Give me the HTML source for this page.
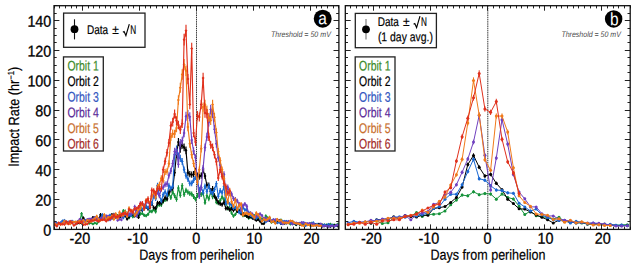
<!DOCTYPE html>
<html><head><meta charset="utf-8"><style>html,body{margin:0;padding:0;background:#fff;overflow:hidden}svg{display:block}text{font-family:"Liberation Sans",sans-serif}</style></head>
<body><svg width="637" height="267" viewBox="0 0 637 267" font-family="Liberation Sans, sans-serif">
<rect width="637" height="267" fill="#fff"/>
<defs><clipPath id="ca"><rect x="54.0" y="5.7" width="284.9" height="223.70000000000002"/></clipPath><clipPath id="cb"><rect x="345.3" y="5.7" width="284.90000000000003" height="223.70000000000002"/></clipPath></defs>
<line x1="196.5" y1="5.7" x2="196.5" y2="229.4" stroke="#3a3a3a" stroke-width="1" stroke-dasharray="1.5,0.7"/>
<line x1="487.8" y1="5.7" x2="487.8" y2="229.4" stroke="#3a3a3a" stroke-width="1" stroke-dasharray="1.5,0.7"/>
<g clip-path="url(#ca)">
<path d="M77.74,222.52 L79.64,222.24 L81.54,213.74 L83.44,221.01 L85.34,222.09 L87.24,220.1 L89.14,223.44 L91.04,222.96 L92.94,223.91 L94.84,222.91 L96.73,223.74 L98.63,221.86 L100.53,217.92 L102.43,218.38 L104.33,216.67 L106.23,217.77 L108.13,220.05 L110.03,217.86 L111.93,217.51 L113.83,214.51 L115.73,217.37 L117.63,215.64 L119.53,217.48 L121.43,215.68 L123.33,210.93 L125.22,211.38 L127.12,214.89 L129.02,217.86 L130.92,214.6 L132.82,216.82 L134.72,215.08 L136.62,212.49 L138.52,215.89 L140.42,213.88 L142.32,213.39 L144.22,215.29 L146.12,215.64 L148.02,214.37 L149.92,211.21 L151.82,211.55 L153.71,209.34 L155.61,211.83 L157.51,205.54 L159.41,204.68 L161.31,204.84 L163.21,201.45 L165.11,199.82 L167.01,198.79 L168.91,193.61 L170.81,197.63 L172.71,191.97 L174.61,195.66 L176.51,199.33 L178.41,187.94 L180.31,195.23 L182.2,185.75 L184.1,194.47 L186,190.33 L187.9,192.13 L189.8,193.5 L191.7,193.96 L193.6,196.45 L195.5,199.28 L197.4,195.42 L199.3,192.18 L201.2,194.56 L203.1,193.16 L205,202.65 L206.9,195.67 L208.8,198.84 L210.69,191.81 L212.59,196.74 L214.49,195.81 L216.39,202.16 L218.29,203.15 L220.19,200.43 L222.09,197.08 L223.99,199.42 L225.89,202.41 L227.79,208.66 L229.69,207.78 L231.59,213 L233.49,216.1 L235.39,214.36 L237.29,211.29 L239.19,210.31 L241.08,211.56 L242.98,215.6 L244.88,215.36 L246.78,216.52 L248.68,218.17 L250.58,217.13 L252.48,214.86 L254.38,215.77 L256.28,217.41 L258.18,219.22 L260.08,218.31 L261.98,218.82 L263.88,219.76 L265.78,216.04 L267.67,217.86 L269.57,218.07 L271.47,222.6 L273.37,220.86 L275.27,220.95 L277.17,222.23 L279.07,221.69 L280.97,219.82 L282.87,223.34 L284.77,222.62 L286.67,223.35 L288.57,221.96 L290.47,224.23 L292.37,222.5 L294.27,223.68 L296.16,224.85 L298.06,223.79 L299.96,224.54 L301.86,224.32 L303.76,224.54 L305.66,223.87 L307.56,223.9 L309.46,225.01 L311.36,222.94 L313.26,224.25 L315.16,224.69 L317.06,225.04 L318.96,225.4 L320.86,225.24 L322.76,226.18 L324.65,224.83 L326.55,224.81 L328.45,225.53 L330.35,224.06 L332.25,225.12 L334.15,224.87 L336.05,225.08 L337.95,223.97" fill="none" stroke="#15923a" stroke-width="1.15" stroke-linejoin="round"/>
<path d="M81.54,212.06V215.42M100.53,216.49V219.36M102.43,216.97V219.78M104.33,215.15V218.18M106.23,216.32V219.21M110.03,216.42V219.3M111.93,216.05V218.98M113.83,212.87V216.14M115.73,215.9V218.84M117.63,214.07V217.21M119.53,216.01V218.94M121.43,214.11V217.25M123.33,209.11V212.75M125.22,209.58V213.18M127.12,213.28V216.5M129.02,216.42V219.3M130.92,212.97V216.23M132.82,215.32V218.32M134.72,213.47V216.68M136.62,210.75V214.24M138.52,214.33V217.45M140.42,212.21V215.55M142.32,211.7V215.09M144.22,213.7V216.88M146.12,214.06V217.21M148.02,212.73V216.02M149.92,209.4V213.02M151.82,209.76V213.34M153.71,207.44V211.24M155.61,210.05V213.61M157.51,203.47V207.61M159.41,202.58V206.79M161.31,202.74V206.94M163.21,199.21V203.69M165.11,197.51V202.12M167.01,196.45V201.14M168.91,191.07V196.15M170.81,195.25V200.02M172.71,189.37V194.56M174.61,193.2V198.13M176.51,197V201.65M178.41,185.21V190.67M180.31,192.75V197.71M182.2,182.95V188.55M184.1,191.97V196.98M186,187.68V192.98M187.9,189.54V194.72M189.8,190.96V196.04M191.7,191.44V196.48M193.6,194.02V198.88M195.5,196.95V201.6M197.4,192.95V197.89M199.3,189.6V194.77M201.2,192.06V197.06M203.1,190.61V195.71M205,200.45V204.84M206.9,193.21V198.13M208.8,196.49V201.18M210.69,189.21V194.41M212.59,194.32V199.16M214.49,193.35V198.26M216.39,199.94V204.37M218.29,200.98V205.32M220.19,198.14V202.71M222.09,194.67V199.49M223.99,197.1V201.74M225.89,200.21V204.61M227.79,206.73V210.59M229.69,205.81V209.75M231.59,211.29V214.72M233.49,214.55V217.65M235.39,212.71V216M237.29,209.49V213.1M239.19,208.46V212.16M241.08,209.77V213.35M242.98,214.03V217.18M244.88,213.78V216.95M246.78,215V218.04M248.68,216.75V219.6M250.58,215.65V218.62M252.48,213.25V216.48M254.38,214.21V217.34M256.28,215.95V218.88M258.18,217.87V220.57M260.08,216.9V219.72M261.98,217.44V220.19M265.78,214.49V217.59M267.67,216.42V219.3M269.57,216.64V219.49" stroke="#15923a" stroke-width="1.15" fill="none"/>
<path d="M76.24,222.52L77.74,221.02L79.24,222.52L77.74,224.02ZM78.14,222.24L79.64,220.74L81.14,222.24L79.64,223.74ZM80.04,213.74L81.54,212.24L83.04,213.74L81.54,215.24ZM81.94,221.01L83.44,219.51L84.94,221.01L83.44,222.51ZM83.84,222.09L85.34,220.59L86.84,222.09L85.34,223.59ZM85.74,220.1L87.24,218.6L88.74,220.1L87.24,221.6ZM87.64,223.44L89.14,221.94L90.64,223.44L89.14,224.94ZM89.54,222.96L91.04,221.46L92.54,222.96L91.04,224.46ZM91.44,223.91L92.94,222.41L94.44,223.91L92.94,225.41ZM93.34,222.91L94.84,221.41L96.34,222.91L94.84,224.41ZM95.23,223.74L96.73,222.24L98.23,223.74L96.73,225.24ZM97.13,221.86L98.63,220.36L100.13,221.86L98.63,223.36ZM99.03,217.92L100.53,216.42L102.03,217.92L100.53,219.42ZM100.93,218.38L102.43,216.88L103.93,218.38L102.43,219.88ZM102.83,216.67L104.33,215.17L105.83,216.67L104.33,218.17ZM104.73,217.77L106.23,216.27L107.73,217.77L106.23,219.27ZM106.63,220.05L108.13,218.55L109.63,220.05L108.13,221.55ZM108.53,217.86L110.03,216.36L111.53,217.86L110.03,219.36ZM110.43,217.51L111.93,216.01L113.43,217.51L111.93,219.01ZM112.33,214.51L113.83,213.01L115.33,214.51L113.83,216.01ZM114.23,217.37L115.73,215.87L117.23,217.37L115.73,218.87ZM116.13,215.64L117.63,214.14L119.13,215.64L117.63,217.14ZM118.03,217.48L119.53,215.98L121.03,217.48L119.53,218.98ZM119.93,215.68L121.43,214.18L122.93,215.68L121.43,217.18ZM121.83,210.93L123.33,209.43L124.83,210.93L123.33,212.43ZM123.72,211.38L125.22,209.88L126.72,211.38L125.22,212.88ZM125.62,214.89L127.12,213.39L128.62,214.89L127.12,216.39ZM127.52,217.86L129.02,216.36L130.52,217.86L129.02,219.36ZM129.42,214.6L130.92,213.1L132.42,214.6L130.92,216.1ZM131.32,216.82L132.82,215.32L134.32,216.82L132.82,218.32ZM133.22,215.08L134.72,213.58L136.22,215.08L134.72,216.58ZM135.12,212.49L136.62,210.99L138.12,212.49L136.62,213.99ZM137.02,215.89L138.52,214.39L140.02,215.89L138.52,217.39ZM138.92,213.88L140.42,212.38L141.92,213.88L140.42,215.38ZM140.82,213.39L142.32,211.89L143.82,213.39L142.32,214.89ZM142.72,215.29L144.22,213.79L145.72,215.29L144.22,216.79ZM144.62,215.64L146.12,214.14L147.62,215.64L146.12,217.14ZM146.52,214.37L148.02,212.87L149.52,214.37L148.02,215.87ZM148.42,211.21L149.92,209.71L151.42,211.21L149.92,212.71ZM150.32,211.55L151.82,210.05L153.32,211.55L151.82,213.05ZM152.21,209.34L153.71,207.84L155.21,209.34L153.71,210.84ZM154.11,211.83L155.61,210.33L157.11,211.83L155.61,213.33ZM156.01,205.54L157.51,204.04L159.01,205.54L157.51,207.04ZM157.91,204.68L159.41,203.18L160.91,204.68L159.41,206.18ZM159.81,204.84L161.31,203.34L162.81,204.84L161.31,206.34ZM161.71,201.45L163.21,199.95L164.71,201.45L163.21,202.95ZM163.61,199.82L165.11,198.32L166.61,199.82L165.11,201.32ZM165.51,198.79L167.01,197.29L168.51,198.79L167.01,200.29ZM167.41,193.61L168.91,192.11L170.41,193.61L168.91,195.11ZM169.31,197.63L170.81,196.13L172.31,197.63L170.81,199.13ZM171.21,191.97L172.71,190.47L174.21,191.97L172.71,193.47ZM173.11,195.66L174.61,194.16L176.11,195.66L174.61,197.16ZM175.01,199.33L176.51,197.83L178.01,199.33L176.51,200.83ZM176.91,187.94L178.41,186.44L179.91,187.94L178.41,189.44ZM178.81,195.23L180.31,193.73L181.81,195.23L180.31,196.73ZM180.7,185.75L182.2,184.25L183.7,185.75L182.2,187.25ZM182.6,194.47L184.1,192.97L185.6,194.47L184.1,195.97ZM184.5,190.33L186,188.83L187.5,190.33L186,191.83ZM186.4,192.13L187.9,190.63L189.4,192.13L187.9,193.63ZM188.3,193.5L189.8,192L191.3,193.5L189.8,195ZM190.2,193.96L191.7,192.46L193.2,193.96L191.7,195.46ZM192.1,196.45L193.6,194.95L195.1,196.45L193.6,197.95ZM194,199.28L195.5,197.78L197,199.28L195.5,200.78ZM195.9,195.42L197.4,193.92L198.9,195.42L197.4,196.92ZM197.8,192.18L199.3,190.68L200.8,192.18L199.3,193.68ZM199.7,194.56L201.2,193.06L202.7,194.56L201.2,196.06ZM201.6,193.16L203.1,191.66L204.6,193.16L203.1,194.66ZM203.5,202.65L205,201.15L206.5,202.65L205,204.15ZM205.4,195.67L206.9,194.17L208.4,195.67L206.9,197.17ZM207.3,198.84L208.8,197.34L210.3,198.84L208.8,200.34ZM209.19,191.81L210.69,190.31L212.19,191.81L210.69,193.31ZM211.09,196.74L212.59,195.24L214.09,196.74L212.59,198.24ZM212.99,195.81L214.49,194.31L215.99,195.81L214.49,197.31ZM214.89,202.16L216.39,200.66L217.89,202.16L216.39,203.66ZM216.79,203.15L218.29,201.65L219.79,203.15L218.29,204.65ZM218.69,200.43L220.19,198.93L221.69,200.43L220.19,201.93ZM220.59,197.08L222.09,195.58L223.59,197.08L222.09,198.58ZM222.49,199.42L223.99,197.92L225.49,199.42L223.99,200.92ZM224.39,202.41L225.89,200.91L227.39,202.41L225.89,203.91ZM226.29,208.66L227.79,207.16L229.29,208.66L227.79,210.16ZM228.19,207.78L229.69,206.28L231.19,207.78L229.69,209.28ZM230.09,213L231.59,211.5L233.09,213L231.59,214.5ZM231.99,216.1L233.49,214.6L234.99,216.1L233.49,217.6ZM233.89,214.36L235.39,212.86L236.89,214.36L235.39,215.86ZM235.79,211.29L237.29,209.79L238.79,211.29L237.29,212.79ZM237.69,210.31L239.19,208.81L240.69,210.31L239.19,211.81ZM239.58,211.56L241.08,210.06L242.58,211.56L241.08,213.06ZM241.48,215.6L242.98,214.1L244.48,215.6L242.98,217.1ZM243.38,215.36L244.88,213.86L246.38,215.36L244.88,216.86ZM245.28,216.52L246.78,215.02L248.28,216.52L246.78,218.02ZM247.18,218.17L248.68,216.67L250.18,218.17L248.68,219.67ZM249.08,217.13L250.58,215.63L252.08,217.13L250.58,218.63ZM250.98,214.86L252.48,213.36L253.98,214.86L252.48,216.36ZM252.88,215.77L254.38,214.27L255.88,215.77L254.38,217.27ZM254.78,217.41L256.28,215.91L257.78,217.41L256.28,218.91ZM256.68,219.22L258.18,217.72L259.68,219.22L258.18,220.72ZM258.58,218.31L260.08,216.81L261.58,218.31L260.08,219.81ZM260.48,218.82L261.98,217.32L263.48,218.82L261.98,220.32ZM262.38,219.76L263.88,218.26L265.38,219.76L263.88,221.26ZM264.28,216.04L265.78,214.54L267.28,216.04L265.78,217.54ZM266.17,217.86L267.67,216.36L269.17,217.86L267.67,219.36ZM268.07,218.07L269.57,216.57L271.07,218.07L269.57,219.57ZM269.97,222.6L271.47,221.1L272.97,222.6L271.47,224.1ZM271.87,220.86L273.37,219.36L274.87,220.86L273.37,222.36ZM273.77,220.95L275.27,219.45L276.77,220.95L275.27,222.45ZM275.67,222.23L277.17,220.73L278.67,222.23L277.17,223.73ZM277.57,221.69L279.07,220.19L280.57,221.69L279.07,223.19ZM279.47,219.82L280.97,218.32L282.47,219.82L280.97,221.32ZM281.37,223.34L282.87,221.84L284.37,223.34L282.87,224.84ZM283.27,222.62L284.77,221.12L286.27,222.62L284.77,224.12ZM285.17,223.35L286.67,221.85L288.17,223.35L286.67,224.85ZM287.07,221.96L288.57,220.46L290.07,221.96L288.57,223.46ZM288.97,224.23L290.47,222.73L291.97,224.23L290.47,225.73ZM290.87,222.5L292.37,221L293.87,222.5L292.37,224ZM292.77,223.68L294.27,222.18L295.77,223.68L294.27,225.18ZM294.66,224.85L296.16,223.35L297.66,224.85L296.16,226.35ZM296.56,223.79L298.06,222.29L299.56,223.79L298.06,225.29ZM298.46,224.54L299.96,223.04L301.46,224.54L299.96,226.04ZM300.36,224.32L301.86,222.82L303.36,224.32L301.86,225.82ZM302.26,224.54L303.76,223.04L305.26,224.54L303.76,226.04ZM304.16,223.87L305.66,222.37L307.16,223.87L305.66,225.37ZM306.06,223.9L307.56,222.4L309.06,223.9L307.56,225.4ZM307.96,225.01L309.46,223.51L310.96,225.01L309.46,226.51ZM309.86,222.94L311.36,221.44L312.86,222.94L311.36,224.44ZM311.76,224.25L313.26,222.75L314.76,224.25L313.26,225.75ZM313.66,224.69L315.16,223.19L316.66,224.69L315.16,226.19ZM315.56,225.04L317.06,223.54L318.56,225.04L317.06,226.54ZM317.46,225.4L318.96,223.9L320.46,225.4L318.96,226.9ZM319.36,225.24L320.86,223.74L322.36,225.24L320.86,226.74ZM321.26,226.18L322.76,224.68L324.26,226.18L322.76,227.68ZM323.15,224.83L324.65,223.33L326.15,224.83L324.65,226.33ZM325.05,224.81L326.55,223.31L328.05,224.81L326.55,226.31ZM326.95,225.53L328.45,224.03L329.95,225.53L328.45,227.03ZM328.85,224.06L330.35,222.56L331.85,224.06L330.35,225.56ZM330.75,225.12L332.25,223.62L333.75,225.12L332.25,226.62ZM332.65,224.87L334.15,223.37L335.65,224.87L334.15,226.37ZM334.55,225.08L336.05,223.58L337.55,225.08L336.05,226.58ZM336.45,223.97L337.95,222.47L339.45,223.97L337.95,225.47Z" fill="#15923a"/>
<path d="M77.74,223.2 L79.64,222.94 L81.54,223.26 L83.44,217.96 L85.34,220.68 L87.24,220.49 L89.14,220.34 L91.04,220.23 L92.94,217.56 L94.84,218.03 L96.73,219.64 L98.63,219.56 L100.53,214.72 L102.43,218.26 L104.33,217.33 L106.23,219.35 L108.13,218.31 L110.03,218.24 L111.93,214.72 L113.83,215.99 L115.73,215.7 L117.63,216.82 L119.53,217.14 L121.43,215.59 L123.33,216.2 L125.22,215.82 L127.12,219.04 L129.02,216.7 L130.92,214.86 L132.82,214.14 L134.72,215.9 L136.62,212.4 L138.52,217.4 L140.42,208.31 L142.32,210.14 L144.22,207.12 L146.12,206.86 L148.02,208.81 L149.92,207.21 L151.82,203.3 L153.71,207.63 L155.61,208.3 L157.51,202.96 L159.41,203.15 L161.31,203.01 L163.21,200.68 L165.11,197.63 L167.01,198.92 L168.91,192.21 L170.81,189.73 L172.71,188 L174.61,172.73 L176.51,154.39 L178.41,142.01 L180.31,148.87 L182.2,144.84 L184.1,147.38 L186,150.36 L187.9,172.73 L189.8,174.22 L191.7,174.67 L193.6,174.22 L195.5,170.94 L197.4,175.71 L199.3,176.61 L201.2,175.71 L203.1,170.04 L205,176.01 L206.9,185 L208.8,185.41 L210.69,190.92 L212.59,188.69 L214.49,196.16 L216.39,198.88 L218.29,202.33 L220.19,203.83 L222.09,204.59 L223.99,202.38 L225.89,208.46 L227.79,208.06 L229.69,209.94 L231.59,208.47 L233.49,210.33 L235.39,208.56 L237.29,211.16 L239.19,211.22 L241.08,213.48 L242.98,213.78 L244.88,214.76 L246.78,216.26 L248.68,217.37 L250.58,216.46 L252.48,218.13 L254.38,218.97 L256.28,220.54 L258.18,219.61 L260.08,221.44 L261.98,223.71 L263.88,223.81 L265.78,219.37 L267.67,220.48 L269.57,220.61 L271.47,221.07 L273.37,221.26 L275.27,221.36 L277.17,222.56 L279.07,220.18 L280.97,223.86 L282.87,221.95 L284.77,223.46 L286.67,222.12 L288.57,222.69 L290.47,222.44 L292.37,221.27 L294.27,223.48 L296.16,224.73 L298.06,223.5 L299.96,224.59 L301.86,223.1 L303.76,223.22 L305.66,223.58 L307.56,224.51 L309.46,223.69 L311.36,225.44 L313.26,224.05 L315.16,224.43 L317.06,224.91 L318.96,223.88 L320.86,225.09 L322.76,224.75 L324.65,225.94 L326.55,225.78 L328.45,224.42 L330.35,226.72 L332.25,225.79 L334.15,225.46 L336.05,225.13 L337.95,226.13" fill="none" stroke="#000000" stroke-width="1.15" stroke-linejoin="round"/>
<path d="M83.44,216.52V219.39M92.94,216.1V219.02M94.84,216.6V219.46M100.53,213.09V216.34M102.43,216.85V219.68M104.33,215.86V218.8M108.13,216.9V219.72M110.03,216.83V219.66M111.93,213.09V216.34M113.83,214.44V217.54M115.73,214.14V217.27M117.63,215.31V218.32M119.53,215.66V218.62M121.43,214.01V217.16M123.33,214.66V217.74M125.22,214.26V217.38M127.12,217.67V220.4M129.02,215.19V218.21M130.92,213.24V216.48M132.82,212.48V215.79M134.72,214.34V217.45M136.62,210.65V214.15M138.52,215.93V218.87M140.42,206.36V210.25M142.32,208.28V212M144.22,205.12V209.12M146.12,204.84V208.87M148.02,206.89V210.73M149.92,205.22V209.21M151.82,201.13V205.46M153.71,205.65V209.6M155.61,206.35V210.25M157.51,200.78V205.14M159.41,200.98V205.32M161.31,200.84V205.19M163.21,198.41V202.95M165.11,195.25V200.02M167.01,196.58V201.26M168.91,189.62V194.79M170.81,187.06V192.4M172.71,185.27V190.72M174.61,169.54V175.92M176.51,150.71V158.06M178.41,138.05V145.97M180.31,145.06V152.67M182.2,140.94V148.74M184.1,143.54V151.22M186,146.59V154.13M187.9,169.54V175.92M189.8,171.07V177.37M191.7,171.53V177.8M193.6,171.07V177.37M195.5,167.7V174.18M197.4,172.61V178.82M199.3,173.53V179.69M201.2,172.61V178.82M203.1,166.78V173.31M205,172.91V179.11M206.9,182.17V187.82M208.8,182.59V188.22M210.69,188.29V193.55M212.59,185.98V191.39M214.49,193.72V198.61M216.39,196.54V201.22M218.29,200.13V204.54M220.19,201.69V205.97M222.09,202.48V206.7M223.99,200.18V204.58M225.89,206.52V210.4M227.79,206.1V210.02M229.69,208.07V211.81M231.59,206.53V210.41M233.49,208.48V212.18M235.39,206.62V210.49M237.29,209.35V212.97M239.19,209.41V213.03M241.08,211.78V215.17M242.98,212.11V215.46M244.88,213.14V216.38M246.78,214.73V217.8M248.68,215.9V218.84M250.58,214.93V217.98M252.48,216.71V219.55M254.38,217.6V220.34" stroke="#000000" stroke-width="1.15" fill="none"/>
<path d="M76.24,223.2L77.74,221.7L79.24,223.2L77.74,224.7ZM78.14,222.94L79.64,221.44L81.14,222.94L79.64,224.44ZM80.04,223.26L81.54,221.76L83.04,223.26L81.54,224.76ZM81.94,217.96L83.44,216.46L84.94,217.96L83.44,219.46ZM83.84,220.68L85.34,219.18L86.84,220.68L85.34,222.18ZM85.74,220.49L87.24,218.99L88.74,220.49L87.24,221.99ZM87.64,220.34L89.14,218.84L90.64,220.34L89.14,221.84ZM89.54,220.23L91.04,218.73L92.54,220.23L91.04,221.73ZM91.44,217.56L92.94,216.06L94.44,217.56L92.94,219.06ZM93.34,218.03L94.84,216.53L96.34,218.03L94.84,219.53ZM95.23,219.64L96.73,218.14L98.23,219.64L96.73,221.14ZM97.13,219.56L98.63,218.06L100.13,219.56L98.63,221.06ZM99.03,214.72L100.53,213.22L102.03,214.72L100.53,216.22ZM100.93,218.26L102.43,216.76L103.93,218.26L102.43,219.76ZM102.83,217.33L104.33,215.83L105.83,217.33L104.33,218.83ZM104.73,219.35L106.23,217.85L107.73,219.35L106.23,220.85ZM106.63,218.31L108.13,216.81L109.63,218.31L108.13,219.81ZM108.53,218.24L110.03,216.74L111.53,218.24L110.03,219.74ZM110.43,214.72L111.93,213.22L113.43,214.72L111.93,216.22ZM112.33,215.99L113.83,214.49L115.33,215.99L113.83,217.49ZM114.23,215.7L115.73,214.2L117.23,215.7L115.73,217.2ZM116.13,216.82L117.63,215.32L119.13,216.82L117.63,218.32ZM118.03,217.14L119.53,215.64L121.03,217.14L119.53,218.64ZM119.93,215.59L121.43,214.09L122.93,215.59L121.43,217.09ZM121.83,216.2L123.33,214.7L124.83,216.2L123.33,217.7ZM123.72,215.82L125.22,214.32L126.72,215.82L125.22,217.32ZM125.62,219.04L127.12,217.54L128.62,219.04L127.12,220.54ZM127.52,216.7L129.02,215.2L130.52,216.7L129.02,218.2ZM129.42,214.86L130.92,213.36L132.42,214.86L130.92,216.36ZM131.32,214.14L132.82,212.64L134.32,214.14L132.82,215.64ZM133.22,215.9L134.72,214.4L136.22,215.9L134.72,217.4ZM135.12,212.4L136.62,210.9L138.12,212.4L136.62,213.9ZM137.02,217.4L138.52,215.9L140.02,217.4L138.52,218.9ZM138.92,208.31L140.42,206.81L141.92,208.31L140.42,209.81ZM140.82,210.14L142.32,208.64L143.82,210.14L142.32,211.64ZM142.72,207.12L144.22,205.62L145.72,207.12L144.22,208.62ZM144.62,206.86L146.12,205.36L147.62,206.86L146.12,208.36ZM146.52,208.81L148.02,207.31L149.52,208.81L148.02,210.31ZM148.42,207.21L149.92,205.71L151.42,207.21L149.92,208.71ZM150.32,203.3L151.82,201.8L153.32,203.3L151.82,204.8ZM152.21,207.63L153.71,206.13L155.21,207.63L153.71,209.13ZM154.11,208.3L155.61,206.8L157.11,208.3L155.61,209.8ZM156.01,202.96L157.51,201.46L159.01,202.96L157.51,204.46ZM157.91,203.15L159.41,201.65L160.91,203.15L159.41,204.65ZM159.81,203.01L161.31,201.51L162.81,203.01L161.31,204.51ZM161.71,200.68L163.21,199.18L164.71,200.68L163.21,202.18ZM163.61,197.63L165.11,196.13L166.61,197.63L165.11,199.13ZM165.51,198.92L167.01,197.42L168.51,198.92L167.01,200.42ZM167.41,192.21L168.91,190.71L170.41,192.21L168.91,193.71ZM169.31,189.73L170.81,188.23L172.31,189.73L170.81,191.23ZM171.21,188L172.71,186.5L174.21,188L172.71,189.5ZM173.11,172.73L174.61,171.23L176.11,172.73L174.61,174.23ZM175.01,154.39L176.51,152.89L178.01,154.39L176.51,155.89ZM176.91,142.01L178.41,140.51L179.91,142.01L178.41,143.51ZM178.81,148.87L180.31,147.37L181.81,148.87L180.31,150.37ZM180.7,144.84L182.2,143.34L183.7,144.84L182.2,146.34ZM182.6,147.38L184.1,145.88L185.6,147.38L184.1,148.88ZM184.5,150.36L186,148.86L187.5,150.36L186,151.86ZM186.4,172.73L187.9,171.23L189.4,172.73L187.9,174.23ZM188.3,174.22L189.8,172.72L191.3,174.22L189.8,175.72ZM190.2,174.67L191.7,173.17L193.2,174.67L191.7,176.17ZM192.1,174.22L193.6,172.72L195.1,174.22L193.6,175.72ZM194,170.94L195.5,169.44L197,170.94L195.5,172.44ZM195.9,175.71L197.4,174.21L198.9,175.71L197.4,177.21ZM197.8,176.61L199.3,175.11L200.8,176.61L199.3,178.11ZM199.7,175.71L201.2,174.21L202.7,175.71L201.2,177.21ZM201.6,170.04L203.1,168.54L204.6,170.04L203.1,171.54ZM203.5,176.01L205,174.51L206.5,176.01L205,177.51ZM205.4,185L206.9,183.5L208.4,185L206.9,186.5ZM207.3,185.41L208.8,183.91L210.3,185.41L208.8,186.91ZM209.19,190.92L210.69,189.42L212.19,190.92L210.69,192.42ZM211.09,188.69L212.59,187.19L214.09,188.69L212.59,190.19ZM212.99,196.16L214.49,194.66L215.99,196.16L214.49,197.66ZM214.89,198.88L216.39,197.38L217.89,198.88L216.39,200.38ZM216.79,202.33L218.29,200.83L219.79,202.33L218.29,203.83ZM218.69,203.83L220.19,202.33L221.69,203.83L220.19,205.33ZM220.59,204.59L222.09,203.09L223.59,204.59L222.09,206.09ZM222.49,202.38L223.99,200.88L225.49,202.38L223.99,203.88ZM224.39,208.46L225.89,206.96L227.39,208.46L225.89,209.96ZM226.29,208.06L227.79,206.56L229.29,208.06L227.79,209.56ZM228.19,209.94L229.69,208.44L231.19,209.94L229.69,211.44ZM230.09,208.47L231.59,206.97L233.09,208.47L231.59,209.97ZM231.99,210.33L233.49,208.83L234.99,210.33L233.49,211.83ZM233.89,208.56L235.39,207.06L236.89,208.56L235.39,210.06ZM235.79,211.16L237.29,209.66L238.79,211.16L237.29,212.66ZM237.69,211.22L239.19,209.72L240.69,211.22L239.19,212.72ZM239.58,213.48L241.08,211.98L242.58,213.48L241.08,214.98ZM241.48,213.78L242.98,212.28L244.48,213.78L242.98,215.28ZM243.38,214.76L244.88,213.26L246.38,214.76L244.88,216.26ZM245.28,216.26L246.78,214.76L248.28,216.26L246.78,217.76ZM247.18,217.37L248.68,215.87L250.18,217.37L248.68,218.87ZM249.08,216.46L250.58,214.96L252.08,216.46L250.58,217.96ZM250.98,218.13L252.48,216.63L253.98,218.13L252.48,219.63ZM252.88,218.97L254.38,217.47L255.88,218.97L254.38,220.47ZM254.78,220.54L256.28,219.04L257.78,220.54L256.28,222.04ZM256.68,219.61L258.18,218.11L259.68,219.61L258.18,221.11ZM258.58,221.44L260.08,219.94L261.58,221.44L260.08,222.94ZM260.48,223.71L261.98,222.21L263.48,223.71L261.98,225.21ZM262.38,223.81L263.88,222.31L265.38,223.81L263.88,225.31ZM264.28,219.37L265.78,217.87L267.28,219.37L265.78,220.87ZM266.17,220.48L267.67,218.98L269.17,220.48L267.67,221.98ZM268.07,220.61L269.57,219.11L271.07,220.61L269.57,222.11ZM269.97,221.07L271.47,219.57L272.97,221.07L271.47,222.57ZM271.87,221.26L273.37,219.76L274.87,221.26L273.37,222.76ZM273.77,221.36L275.27,219.86L276.77,221.36L275.27,222.86ZM275.67,222.56L277.17,221.06L278.67,222.56L277.17,224.06ZM277.57,220.18L279.07,218.68L280.57,220.18L279.07,221.68ZM279.47,223.86L280.97,222.36L282.47,223.86L280.97,225.36ZM281.37,221.95L282.87,220.45L284.37,221.95L282.87,223.45ZM283.27,223.46L284.77,221.96L286.27,223.46L284.77,224.96ZM285.17,222.12L286.67,220.62L288.17,222.12L286.67,223.62ZM287.07,222.69L288.57,221.19L290.07,222.69L288.57,224.19ZM288.97,222.44L290.47,220.94L291.97,222.44L290.47,223.94ZM290.87,221.27L292.37,219.77L293.87,221.27L292.37,222.77ZM292.77,223.48L294.27,221.98L295.77,223.48L294.27,224.98ZM294.66,224.73L296.16,223.23L297.66,224.73L296.16,226.23ZM296.56,223.5L298.06,222L299.56,223.5L298.06,225ZM298.46,224.59L299.96,223.09L301.46,224.59L299.96,226.09ZM300.36,223.1L301.86,221.6L303.36,223.1L301.86,224.6ZM302.26,223.22L303.76,221.72L305.26,223.22L303.76,224.72ZM304.16,223.58L305.66,222.08L307.16,223.58L305.66,225.08ZM306.06,224.51L307.56,223.01L309.06,224.51L307.56,226.01ZM307.96,223.69L309.46,222.19L310.96,223.69L309.46,225.19ZM309.86,225.44L311.36,223.94L312.86,225.44L311.36,226.94ZM311.76,224.05L313.26,222.55L314.76,224.05L313.26,225.55ZM313.66,224.43L315.16,222.93L316.66,224.43L315.16,225.93ZM315.56,224.91L317.06,223.41L318.56,224.91L317.06,226.41ZM317.46,223.88L318.96,222.38L320.46,223.88L318.96,225.38ZM319.36,225.09L320.86,223.59L322.36,225.09L320.86,226.59ZM321.26,224.75L322.76,223.25L324.26,224.75L322.76,226.25ZM323.15,225.94L324.65,224.44L326.15,225.94L324.65,227.44ZM325.05,225.78L326.55,224.28L328.05,225.78L326.55,227.28ZM326.95,224.42L328.45,222.92L329.95,224.42L328.45,225.92ZM328.85,226.72L330.35,225.22L331.85,226.72L330.35,228.22ZM330.75,225.79L332.25,224.29L333.75,225.79L332.25,227.29ZM332.65,225.46L334.15,223.96L335.65,225.46L334.15,226.96ZM334.55,225.13L336.05,223.63L337.55,225.13L336.05,226.63ZM336.45,226.13L337.95,224.63L339.45,226.13L337.95,227.63Z" fill="#000000"/>
<path d="M54.95,221.99 L56.85,223.18 L58.75,223.34 L60.65,222.57 L62.55,220.68 L64.45,220.34 L66.35,221.89 L68.25,221.79 L70.14,223.05 L72.04,220.93 L73.94,222.05 L75.84,222.8 L77.74,221.14 L79.64,221.43 L81.54,221.7 L83.44,220.5 L85.34,220.17 L87.24,219.68 L89.14,219.5 L91.04,219.46 L92.94,220.04 L94.84,217.74 L96.73,219.18 L98.63,221.04 L100.53,218.38 L102.43,214.78 L104.33,218.63 L106.23,218.09 L108.13,216.81 L110.03,215.34 L111.93,218.46 L113.83,217.06 L115.73,216.56 L117.63,216.87 L119.53,215.62 L121.43,214.27 L123.33,217.71 L125.22,214.1 L127.12,216.13 L129.02,215.04 L130.92,215.31 L132.82,213.11 L134.72,214.49 L136.62,211.82 L138.52,212.68 L140.42,207.62 L142.32,209.5 L144.22,208.45 L146.12,206.25 L148.02,207.73 L149.92,205.76 L151.82,203.62 L153.71,196.34 L155.61,198.68 L157.51,185.61 L159.41,195.4 L161.31,201.08 L163.21,194.56 L165.11,191.97 L167.01,195.03 L168.91,185.62 L170.81,188.54 L172.71,186.34 L174.61,154.83 L176.51,149.32 L178.41,156.03 L180.31,158.41 L182.2,161.54 L184.1,169.75 L186,175.71 L187.9,178.99 L189.8,183.4 L191.7,183.38 L193.6,180.13 L195.5,177.04 L197.4,180.39 L199.3,189.56 L201.2,187.16 L203.1,192.3 L205,186.28 L206.9,191.51 L208.8,186.25 L210.69,191.85 L212.59,193.32 L214.49,189.38 L216.39,183.77 L218.29,196.27 L220.19,190.63 L222.09,192.71 L223.99,186.76 L225.89,203.32 L227.79,202.04 L229.69,204.1 L231.59,204.98 L233.49,208.06 L235.39,207.61 L237.29,208.42 L239.19,212.39 L241.08,212.36 L242.98,207.64 L244.88,209.83 L246.78,209.88 L248.68,212.59 L250.58,215.44 L252.48,216.77 L254.38,217.7 L256.28,218.17 L258.18,216.54 L260.08,218.87 L261.98,220.34 L263.88,219.91 L265.78,221.9 L267.67,220.33 L269.57,219.13 L271.47,220.65 L273.37,219.59 L275.27,220.33 L277.17,223.07 L279.07,222.34 L280.97,223.55 L282.87,221.35 L284.77,221.16 L286.67,221.28 L288.57,222.08 L290.47,223.11 L292.37,221.74 L294.27,223.56 L296.16,223.72 L298.06,223.84 L299.96,223.04 L301.86,223.4 L303.76,222.45 L305.66,225.7 L307.56,224.32 L309.46,224.22 L311.36,225.91 L313.26,222.57 L315.16,225.23 L317.06,223.94 L318.96,225.13 L320.86,223.94 L322.76,225.42 L324.65,224.79 L326.55,225.9 L328.45,224.23 L330.35,225.99 L332.25,225.02 L334.15,226.71 L336.05,225.57 L337.95,225.08" fill="none" stroke="#1a68d2" stroke-width="1.15" stroke-linejoin="round"/>
<path d="M94.84,216.29V219.19M96.73,217.83V220.54M100.53,216.97V219.79M102.43,213.16V216.41M104.33,217.24V220.02M106.23,216.66V219.51M108.13,215.3V218.31M110.03,213.75V216.93M111.93,217.06V219.87M113.83,215.57V218.55M115.73,215.05V218.08M117.63,215.37V218.37M119.53,214.04V217.19M121.43,212.62V215.92M123.33,216.26V219.16M125.22,212.44V215.76M127.12,214.58V217.67M129.02,213.43V216.64M130.92,213.72V216.9M132.82,211.4V214.82M134.72,212.86V216.13M136.62,210.04V213.59M138.52,210.95V214.41M140.42,205.64V209.59M142.32,207.61V211.39M144.22,206.51V210.39M146.12,204.21V208.29M148.02,205.76V209.71M149.92,203.7V207.82M151.82,201.46V205.77M153.71,193.91V198.78M155.61,196.33V201.03M157.51,182.81V188.42M159.41,192.93V197.87M161.31,198.82V203.33M163.21,192.06V197.07M165.11,189.37V194.56M167.01,192.55V197.52M168.91,182.82V188.43M170.81,185.83V191.25M172.71,183.55V189.12M174.61,151.17V158.49M176.51,145.52V153.11M178.41,152.4V159.66M180.31,154.84V161.98M182.2,158.05V165.04M184.1,166.47V173.02M186,172.61V178.82M187.9,175.98V182M189.8,180.53V186.28M191.7,180.5V186.26M193.6,177.16V183.11M195.5,173.98V180.11M197.4,177.42V183.36M199.3,186.88V192.23M201.2,184.41V189.92M203.1,189.72V194.88M205,183.49V189.06M206.9,188.9V194.12M208.8,183.47V189.04M210.69,189.26V194.45M212.59,190.78V195.87M214.49,186.69V192.06M216.39,180.9V186.63M218.29,193.83V198.71M220.19,187.99V193.26M222.09,190.15V195.28M223.99,183.99V189.53M225.89,201.15V205.48M227.79,199.83V204.26M229.69,201.96V206.23M231.59,202.88V207.07M233.49,206.1V210.02M235.39,205.63V209.59M237.29,206.48V210.36M239.19,210.64V214.14M241.08,210.61V214.11M242.98,205.66V209.62M244.88,207.96V211.71M246.78,208.01V211.75M248.68,210.86V214.33M250.58,213.86V217.02M252.48,215.26V218.28M254.38,216.25V219.15M256.28,216.75V219.59M258.18,215.02V218.06M260.08,217.49V220.24M269.57,217.77V220.48" stroke="#1a68d2" stroke-width="1.15" fill="none"/>
<path d="M53.45,221.99L54.95,220.49L56.45,221.99L54.95,223.49ZM55.35,223.18L56.85,221.68L58.35,223.18L56.85,224.68ZM57.25,223.34L58.75,221.84L60.25,223.34L58.75,224.84ZM59.15,222.57L60.65,221.07L62.15,222.57L60.65,224.07ZM61.05,220.68L62.55,219.18L64.05,220.68L62.55,222.18ZM62.95,220.34L64.45,218.84L65.95,220.34L64.45,221.84ZM64.85,221.89L66.35,220.39L67.85,221.89L66.35,223.39ZM66.75,221.79L68.25,220.29L69.75,221.79L68.25,223.29ZM68.64,223.05L70.14,221.55L71.64,223.05L70.14,224.55ZM70.54,220.93L72.04,219.43L73.54,220.93L72.04,222.43ZM72.44,222.05L73.94,220.55L75.44,222.05L73.94,223.55ZM74.34,222.8L75.84,221.3L77.34,222.8L75.84,224.3ZM76.24,221.14L77.74,219.64L79.24,221.14L77.74,222.64ZM78.14,221.43L79.64,219.93L81.14,221.43L79.64,222.93ZM80.04,221.7L81.54,220.2L83.04,221.7L81.54,223.2ZM81.94,220.5L83.44,219L84.94,220.5L83.44,222ZM83.84,220.17L85.34,218.67L86.84,220.17L85.34,221.67ZM85.74,219.68L87.24,218.18L88.74,219.68L87.24,221.18ZM87.64,219.5L89.14,218L90.64,219.5L89.14,221ZM89.54,219.46L91.04,217.96L92.54,219.46L91.04,220.96ZM91.44,220.04L92.94,218.54L94.44,220.04L92.94,221.54ZM93.34,217.74L94.84,216.24L96.34,217.74L94.84,219.24ZM95.23,219.18L96.73,217.68L98.23,219.18L96.73,220.68ZM97.13,221.04L98.63,219.54L100.13,221.04L98.63,222.54ZM99.03,218.38L100.53,216.88L102.03,218.38L100.53,219.88ZM100.93,214.78L102.43,213.28L103.93,214.78L102.43,216.28ZM102.83,218.63L104.33,217.13L105.83,218.63L104.33,220.13ZM104.73,218.09L106.23,216.59L107.73,218.09L106.23,219.59ZM106.63,216.81L108.13,215.31L109.63,216.81L108.13,218.31ZM108.53,215.34L110.03,213.84L111.53,215.34L110.03,216.84ZM110.43,218.46L111.93,216.96L113.43,218.46L111.93,219.96ZM112.33,217.06L113.83,215.56L115.33,217.06L113.83,218.56ZM114.23,216.56L115.73,215.06L117.23,216.56L115.73,218.06ZM116.13,216.87L117.63,215.37L119.13,216.87L117.63,218.37ZM118.03,215.62L119.53,214.12L121.03,215.62L119.53,217.12ZM119.93,214.27L121.43,212.77L122.93,214.27L121.43,215.77ZM121.83,217.71L123.33,216.21L124.83,217.71L123.33,219.21ZM123.72,214.1L125.22,212.6L126.72,214.1L125.22,215.6ZM125.62,216.13L127.12,214.63L128.62,216.13L127.12,217.63ZM127.52,215.04L129.02,213.54L130.52,215.04L129.02,216.54ZM129.42,215.31L130.92,213.81L132.42,215.31L130.92,216.81ZM131.32,213.11L132.82,211.61L134.32,213.11L132.82,214.61ZM133.22,214.49L134.72,212.99L136.22,214.49L134.72,215.99ZM135.12,211.82L136.62,210.32L138.12,211.82L136.62,213.32ZM137.02,212.68L138.52,211.18L140.02,212.68L138.52,214.18ZM138.92,207.62L140.42,206.12L141.92,207.62L140.42,209.12ZM140.82,209.5L142.32,208L143.82,209.5L142.32,211ZM142.72,208.45L144.22,206.95L145.72,208.45L144.22,209.95ZM144.62,206.25L146.12,204.75L147.62,206.25L146.12,207.75ZM146.52,207.73L148.02,206.23L149.52,207.73L148.02,209.23ZM148.42,205.76L149.92,204.26L151.42,205.76L149.92,207.26ZM150.32,203.62L151.82,202.12L153.32,203.62L151.82,205.12ZM152.21,196.34L153.71,194.84L155.21,196.34L153.71,197.84ZM154.11,198.68L155.61,197.18L157.11,198.68L155.61,200.18ZM156.01,185.61L157.51,184.11L159.01,185.61L157.51,187.11ZM157.91,195.4L159.41,193.9L160.91,195.4L159.41,196.9ZM159.81,201.08L161.31,199.58L162.81,201.08L161.31,202.58ZM161.71,194.56L163.21,193.06L164.71,194.56L163.21,196.06ZM163.61,191.97L165.11,190.47L166.61,191.97L165.11,193.47ZM165.51,195.03L167.01,193.53L168.51,195.03L167.01,196.53ZM167.41,185.62L168.91,184.12L170.41,185.62L168.91,187.12ZM169.31,188.54L170.81,187.04L172.31,188.54L170.81,190.04ZM171.21,186.34L172.71,184.84L174.21,186.34L172.71,187.84ZM173.11,154.83L174.61,153.33L176.11,154.83L174.61,156.33ZM175.01,149.32L176.51,147.82L178.01,149.32L176.51,150.82ZM176.91,156.03L178.41,154.53L179.91,156.03L178.41,157.53ZM178.81,158.41L180.31,156.91L181.81,158.41L180.31,159.91ZM180.7,161.54L182.2,160.04L183.7,161.54L182.2,163.04ZM182.6,169.75L184.1,168.25L185.6,169.75L184.1,171.25ZM184.5,175.71L186,174.21L187.5,175.71L186,177.21ZM186.4,178.99L187.9,177.49L189.4,178.99L187.9,180.49ZM188.3,183.4L189.8,181.9L191.3,183.4L189.8,184.9ZM190.2,183.38L191.7,181.88L193.2,183.38L191.7,184.88ZM192.1,180.13L193.6,178.63L195.1,180.13L193.6,181.63ZM194,177.04L195.5,175.54L197,177.04L195.5,178.54ZM195.9,180.39L197.4,178.89L198.9,180.39L197.4,181.89ZM197.8,189.56L199.3,188.06L200.8,189.56L199.3,191.06ZM199.7,187.16L201.2,185.66L202.7,187.16L201.2,188.66ZM201.6,192.3L203.1,190.8L204.6,192.3L203.1,193.8ZM203.5,186.28L205,184.78L206.5,186.28L205,187.78ZM205.4,191.51L206.9,190.01L208.4,191.51L206.9,193.01ZM207.3,186.25L208.8,184.75L210.3,186.25L208.8,187.75ZM209.19,191.85L210.69,190.35L212.19,191.85L210.69,193.35ZM211.09,193.32L212.59,191.82L214.09,193.32L212.59,194.82ZM212.99,189.38L214.49,187.88L215.99,189.38L214.49,190.88ZM214.89,183.77L216.39,182.27L217.89,183.77L216.39,185.27ZM216.79,196.27L218.29,194.77L219.79,196.27L218.29,197.77ZM218.69,190.63L220.19,189.13L221.69,190.63L220.19,192.13ZM220.59,192.71L222.09,191.21L223.59,192.71L222.09,194.21ZM222.49,186.76L223.99,185.26L225.49,186.76L223.99,188.26ZM224.39,203.32L225.89,201.82L227.39,203.32L225.89,204.82ZM226.29,202.04L227.79,200.54L229.29,202.04L227.79,203.54ZM228.19,204.1L229.69,202.6L231.19,204.1L229.69,205.6ZM230.09,204.98L231.59,203.48L233.09,204.98L231.59,206.48ZM231.99,208.06L233.49,206.56L234.99,208.06L233.49,209.56ZM233.89,207.61L235.39,206.11L236.89,207.61L235.39,209.11ZM235.79,208.42L237.29,206.92L238.79,208.42L237.29,209.92ZM237.69,212.39L239.19,210.89L240.69,212.39L239.19,213.89ZM239.58,212.36L241.08,210.86L242.58,212.36L241.08,213.86ZM241.48,207.64L242.98,206.14L244.48,207.64L242.98,209.14ZM243.38,209.83L244.88,208.33L246.38,209.83L244.88,211.33ZM245.28,209.88L246.78,208.38L248.28,209.88L246.78,211.38ZM247.18,212.59L248.68,211.09L250.18,212.59L248.68,214.09ZM249.08,215.44L250.58,213.94L252.08,215.44L250.58,216.94ZM250.98,216.77L252.48,215.27L253.98,216.77L252.48,218.27ZM252.88,217.7L254.38,216.2L255.88,217.7L254.38,219.2ZM254.78,218.17L256.28,216.67L257.78,218.17L256.28,219.67ZM256.68,216.54L258.18,215.04L259.68,216.54L258.18,218.04ZM258.58,218.87L260.08,217.37L261.58,218.87L260.08,220.37ZM260.48,220.34L261.98,218.84L263.48,220.34L261.98,221.84ZM262.38,219.91L263.88,218.41L265.38,219.91L263.88,221.41ZM264.28,221.9L265.78,220.4L267.28,221.9L265.78,223.4ZM266.17,220.33L267.67,218.83L269.17,220.33L267.67,221.83ZM268.07,219.13L269.57,217.63L271.07,219.13L269.57,220.63ZM269.97,220.65L271.47,219.15L272.97,220.65L271.47,222.15ZM271.87,219.59L273.37,218.09L274.87,219.59L273.37,221.09ZM273.77,220.33L275.27,218.83L276.77,220.33L275.27,221.83ZM275.67,223.07L277.17,221.57L278.67,223.07L277.17,224.57ZM277.57,222.34L279.07,220.84L280.57,222.34L279.07,223.84ZM279.47,223.55L280.97,222.05L282.47,223.55L280.97,225.05ZM281.37,221.35L282.87,219.85L284.37,221.35L282.87,222.85ZM283.27,221.16L284.77,219.66L286.27,221.16L284.77,222.66ZM285.17,221.28L286.67,219.78L288.17,221.28L286.67,222.78ZM287.07,222.08L288.57,220.58L290.07,222.08L288.57,223.58ZM288.97,223.11L290.47,221.61L291.97,223.11L290.47,224.61ZM290.87,221.74L292.37,220.24L293.87,221.74L292.37,223.24ZM292.77,223.56L294.27,222.06L295.77,223.56L294.27,225.06ZM294.66,223.72L296.16,222.22L297.66,223.72L296.16,225.22ZM296.56,223.84L298.06,222.34L299.56,223.84L298.06,225.34ZM298.46,223.04L299.96,221.54L301.46,223.04L299.96,224.54ZM300.36,223.4L301.86,221.9L303.36,223.4L301.86,224.9ZM302.26,222.45L303.76,220.95L305.26,222.45L303.76,223.95ZM304.16,225.7L305.66,224.2L307.16,225.7L305.66,227.2ZM306.06,224.32L307.56,222.82L309.06,224.32L307.56,225.82ZM307.96,224.22L309.46,222.72L310.96,224.22L309.46,225.72ZM309.86,225.91L311.36,224.41L312.86,225.91L311.36,227.41ZM311.76,222.57L313.26,221.07L314.76,222.57L313.26,224.07ZM313.66,225.23L315.16,223.73L316.66,225.23L315.16,226.73ZM315.56,223.94L317.06,222.44L318.56,223.94L317.06,225.44ZM317.46,225.13L318.96,223.63L320.46,225.13L318.96,226.63ZM319.36,223.94L320.86,222.44L322.36,223.94L320.86,225.44ZM321.26,225.42L322.76,223.92L324.26,225.42L322.76,226.92ZM323.15,224.79L324.65,223.29L326.15,224.79L324.65,226.29ZM325.05,225.9L326.55,224.4L328.05,225.9L326.55,227.4ZM326.95,224.23L328.45,222.73L329.95,224.23L328.45,225.73ZM328.85,225.99L330.35,224.49L331.85,225.99L330.35,227.49ZM330.75,225.02L332.25,223.52L333.75,225.02L332.25,226.52ZM332.65,226.71L334.15,225.21L335.65,226.71L334.15,228.21ZM334.55,225.57L336.05,224.07L337.55,225.57L336.05,227.07ZM336.45,225.08L337.95,223.58L339.45,225.08L337.95,226.58Z" fill="#1a68d2"/>
<path d="M54.95,222.53 L56.85,224.64 L58.75,224.28 L60.65,223.54 L62.55,223.6 L64.45,221.55 L66.35,222.67 L68.25,222.91 L70.14,221.68 L72.04,221.38 L73.94,222.18 L75.84,222.27 L77.74,221.71 L79.64,219.34 L81.54,219.84 L83.44,221.44 L85.34,221.07 L87.24,219.62 L89.14,219.15 L91.04,219.09 L92.94,219.05 L94.84,217.6 L96.73,219.46 L98.63,218.66 L100.53,218.4 L102.43,217.51 L104.33,217.63 L106.23,216.08 L108.13,216.37 L110.03,219.89 L111.93,216.57 L113.83,214.83 L115.73,215.18 L117.63,220.48 L119.53,219.1 L121.43,219.98 L123.33,213.64 L125.22,214.34 L127.12,215.48 L129.02,213.85 L130.92,213.44 L132.82,211.69 L134.72,206.87 L136.62,216.08 L138.52,211.57 L140.42,203.47 L142.32,203.87 L144.22,205.7 L146.12,202.05 L148.02,201.76 L149.92,203.86 L151.82,195.98 L153.71,194.72 L155.61,194.6 L157.51,192.24 L159.41,195.74 L161.31,188.82 L163.21,187.34 L165.11,184.38 L167.01,184.06 L168.91,175.4 L170.81,170.94 L172.71,163.48 L174.61,151.55 L176.51,151.28 L178.41,164.21 L180.31,142.9 L182.2,140.81 L184.1,133.06 L186,116.21 L187.9,114.57 L189.8,116.8 L191.7,139.92 L193.6,151.11 L195.5,157.82 L197.4,181.68 L199.3,196.59 L201.2,187.64 L203.1,168.26 L205,147.38 L206.9,136.94 L208.8,122.02 L210.69,109.5 L212.59,113.52 L214.49,129.18 L216.39,143.8 L218.29,157.82 L220.19,165.12 L222.09,174.22 L223.99,174.27 L225.89,192.1 L227.79,187.34 L229.69,193.71 L231.59,194.06 L233.49,198.54 L235.39,199.27 L237.29,201.06 L239.19,204.05 L241.08,210.01 L242.98,205.54 L244.88,204.05 L246.78,206.14 L248.68,214.16 L250.58,212.9 L252.48,214.16 L254.38,216.92 L256.28,216.08 L258.18,214.93 L260.08,213.91 L261.98,215.47 L263.88,218.42 L265.78,218.09 L267.67,220.64 L269.57,218.58 L271.47,221.07 L273.37,219.8 L275.27,219.6 L277.17,219.68 L279.07,220.55 L280.97,222.36 L282.87,224.12 L284.77,221.83 L286.67,223.21 L288.57,221.29 L290.47,221.62 L292.37,224.19 L294.27,222.85 L296.16,222.68 L298.06,223.63 L299.96,223.57 L301.86,222.35 L303.76,223.04 L305.66,223.27 L307.56,223.62 L309.46,223.21 L311.36,223.51 L313.26,223.75 L315.16,224.65 L317.06,225.22 L318.96,225.78 L320.86,224.01 L322.76,226.59 L324.65,225.86 L326.55,225.91 L328.45,226.65 L330.35,226.04 L332.25,225.66 L334.15,226.54 L336.05,225.17 L337.95,225.31" fill="none" stroke="#7040bf" stroke-width="1.15" stroke-linejoin="round"/>
<path d="M89.14,217.79V220.5M91.04,217.73V220.45M92.94,217.69V220.42M94.84,216.14V219.05M98.63,217.27V220.05M100.53,217V219.81M102.43,216.05V218.97M104.33,216.18V219.08M106.23,214.54V217.63M108.13,214.84V217.9M111.93,215.05V218.09M113.83,213.22V216.45M115.73,213.59V216.78M119.53,217.74V220.46M123.33,211.96V215.33M125.22,212.69V215.98M127.12,213.9V217.06M129.02,212.18V215.53M130.92,211.75V215.14M132.82,209.9V213.47M134.72,204.86V208.88M136.62,214.53V217.62M138.52,209.78V213.36M140.42,201.31V205.63M142.32,201.73V206.01M144.22,203.64V207.76M146.12,199.83V204.27M148.02,199.53V203.99M149.92,201.72V206M151.82,193.53V198.43M153.71,192.22V197.22M155.61,192.1V197.1M157.51,189.66V194.83M159.41,193.28V198.2M161.31,186.11V191.52M163.21,184.6V190.09M165.11,181.54V187.23M167.01,181.21V186.92M168.91,172.28V178.51M170.81,167.7V174.18M172.71,160.04V166.92M174.61,147.81V155.29M176.51,147.53V155.02M178.41,160.79V167.63M180.31,138.96V146.84M182.2,136.83V144.8M184.1,128.9V137.22M186,111.7V120.72M187.9,110.02V119.11M189.8,112.31V121.3M191.7,135.91V143.93M193.6,147.35V154.86M195.5,154.23V161.4M197.4,178.75V184.61M199.3,194.16V199.02M201.2,184.9V190.38M203.1,164.94V171.57M205,143.54V151.22M206.9,132.86V141.01M208.8,117.63V126.42M210.69,104.86V114.14M212.59,108.96V118.09M214.49,124.94V133.43M216.39,139.88V147.72M218.29,154.23V161.4M220.19,161.73V168.52M222.09,171.07V177.37M223.99,171.13V177.42M225.89,189.51V194.69M227.79,184.6V190.09M229.69,191.18V196.24M231.59,191.54V196.58M233.49,196.19V200.89M235.39,196.94V201.59M237.29,198.81V203.32M239.19,201.91V206.18M241.08,208.15V211.88M242.98,203.47V207.61M244.88,201.91V206.18M246.78,204.09V208.18M248.68,212.5V215.81M250.58,211.18V214.63M252.48,212.51V215.82M254.38,215.42V218.42M256.28,214.53V217.63M258.18,213.32V216.55M260.08,212.24V215.58M261.98,213.89V217.05M263.88,217.02V219.83M265.78,216.67V219.52M269.57,217.18V219.97" stroke="#7040bf" stroke-width="1.15" fill="none"/>
<path d="M53.45,222.53L54.95,221.03L56.45,222.53L54.95,224.03ZM55.35,224.64L56.85,223.14L58.35,224.64L56.85,226.14ZM57.25,224.28L58.75,222.78L60.25,224.28L58.75,225.78ZM59.15,223.54L60.65,222.04L62.15,223.54L60.65,225.04ZM61.05,223.6L62.55,222.1L64.05,223.6L62.55,225.1ZM62.95,221.55L64.45,220.05L65.95,221.55L64.45,223.05ZM64.85,222.67L66.35,221.17L67.85,222.67L66.35,224.17ZM66.75,222.91L68.25,221.41L69.75,222.91L68.25,224.41ZM68.64,221.68L70.14,220.18L71.64,221.68L70.14,223.18ZM70.54,221.38L72.04,219.88L73.54,221.38L72.04,222.88ZM72.44,222.18L73.94,220.68L75.44,222.18L73.94,223.68ZM74.34,222.27L75.84,220.77L77.34,222.27L75.84,223.77ZM76.24,221.71L77.74,220.21L79.24,221.71L77.74,223.21ZM78.14,219.34L79.64,217.84L81.14,219.34L79.64,220.84ZM80.04,219.84L81.54,218.34L83.04,219.84L81.54,221.34ZM81.94,221.44L83.44,219.94L84.94,221.44L83.44,222.94ZM83.84,221.07L85.34,219.57L86.84,221.07L85.34,222.57ZM85.74,219.62L87.24,218.12L88.74,219.62L87.24,221.12ZM87.64,219.15L89.14,217.65L90.64,219.15L89.14,220.65ZM89.54,219.09L91.04,217.59L92.54,219.09L91.04,220.59ZM91.44,219.05L92.94,217.55L94.44,219.05L92.94,220.55ZM93.34,217.6L94.84,216.1L96.34,217.6L94.84,219.1ZM95.23,219.46L96.73,217.96L98.23,219.46L96.73,220.96ZM97.13,218.66L98.63,217.16L100.13,218.66L98.63,220.16ZM99.03,218.4L100.53,216.9L102.03,218.4L100.53,219.9ZM100.93,217.51L102.43,216.01L103.93,217.51L102.43,219.01ZM102.83,217.63L104.33,216.13L105.83,217.63L104.33,219.13ZM104.73,216.08L106.23,214.58L107.73,216.08L106.23,217.58ZM106.63,216.37L108.13,214.87L109.63,216.37L108.13,217.87ZM108.53,219.89L110.03,218.39L111.53,219.89L110.03,221.39ZM110.43,216.57L111.93,215.07L113.43,216.57L111.93,218.07ZM112.33,214.83L113.83,213.33L115.33,214.83L113.83,216.33ZM114.23,215.18L115.73,213.68L117.23,215.18L115.73,216.68ZM116.13,220.48L117.63,218.98L119.13,220.48L117.63,221.98ZM118.03,219.1L119.53,217.6L121.03,219.1L119.53,220.6ZM119.93,219.98L121.43,218.48L122.93,219.98L121.43,221.48ZM121.83,213.64L123.33,212.14L124.83,213.64L123.33,215.14ZM123.72,214.34L125.22,212.84L126.72,214.34L125.22,215.84ZM125.62,215.48L127.12,213.98L128.62,215.48L127.12,216.98ZM127.52,213.85L129.02,212.35L130.52,213.85L129.02,215.35ZM129.42,213.44L130.92,211.94L132.42,213.44L130.92,214.94ZM131.32,211.69L132.82,210.19L134.32,211.69L132.82,213.19ZM133.22,206.87L134.72,205.37L136.22,206.87L134.72,208.37ZM135.12,216.08L136.62,214.58L138.12,216.08L136.62,217.58ZM137.02,211.57L138.52,210.07L140.02,211.57L138.52,213.07ZM138.92,203.47L140.42,201.97L141.92,203.47L140.42,204.97ZM140.82,203.87L142.32,202.37L143.82,203.87L142.32,205.37ZM142.72,205.7L144.22,204.2L145.72,205.7L144.22,207.2ZM144.62,202.05L146.12,200.55L147.62,202.05L146.12,203.55ZM146.52,201.76L148.02,200.26L149.52,201.76L148.02,203.26ZM148.42,203.86L149.92,202.36L151.42,203.86L149.92,205.36ZM150.32,195.98L151.82,194.48L153.32,195.98L151.82,197.48ZM152.21,194.72L153.71,193.22L155.21,194.72L153.71,196.22ZM154.11,194.6L155.61,193.1L157.11,194.6L155.61,196.1ZM156.01,192.24L157.51,190.74L159.01,192.24L157.51,193.74ZM157.91,195.74L159.41,194.24L160.91,195.74L159.41,197.24ZM159.81,188.82L161.31,187.32L162.81,188.82L161.31,190.32ZM161.71,187.34L163.21,185.84L164.71,187.34L163.21,188.84ZM163.61,184.38L165.11,182.88L166.61,184.38L165.11,185.88ZM165.51,184.06L167.01,182.56L168.51,184.06L167.01,185.56ZM167.41,175.4L168.91,173.9L170.41,175.4L168.91,176.9ZM169.31,170.94L170.81,169.44L172.31,170.94L170.81,172.44ZM171.21,163.48L172.71,161.98L174.21,163.48L172.71,164.98ZM173.11,151.55L174.61,150.05L176.11,151.55L174.61,153.05ZM175.01,151.28L176.51,149.78L178.01,151.28L176.51,152.78ZM176.91,164.21L178.41,162.71L179.91,164.21L178.41,165.71ZM178.81,142.9L180.31,141.4L181.81,142.9L180.31,144.4ZM180.7,140.81L182.2,139.31L183.7,140.81L182.2,142.31ZM182.6,133.06L184.1,131.56L185.6,133.06L184.1,134.56ZM184.5,116.21L186,114.71L187.5,116.21L186,117.71ZM186.4,114.57L187.9,113.07L189.4,114.57L187.9,116.07ZM188.3,116.8L189.8,115.3L191.3,116.8L189.8,118.3ZM190.2,139.92L191.7,138.42L193.2,139.92L191.7,141.42ZM192.1,151.11L193.6,149.61L195.1,151.11L193.6,152.61ZM194,157.82L195.5,156.32L197,157.82L195.5,159.32ZM195.9,181.68L197.4,180.18L198.9,181.68L197.4,183.18ZM197.8,196.59L199.3,195.09L200.8,196.59L199.3,198.09ZM199.7,187.64L201.2,186.14L202.7,187.64L201.2,189.14ZM201.6,168.26L203.1,166.76L204.6,168.26L203.1,169.76ZM203.5,147.38L205,145.88L206.5,147.38L205,148.88ZM205.4,136.94L206.9,135.44L208.4,136.94L206.9,138.44ZM207.3,122.02L208.8,120.52L210.3,122.02L208.8,123.52ZM209.19,109.5L210.69,108L212.19,109.5L210.69,111ZM211.09,113.52L212.59,112.02L214.09,113.52L212.59,115.02ZM212.99,129.18L214.49,127.68L215.99,129.18L214.49,130.68ZM214.89,143.8L216.39,142.3L217.89,143.8L216.39,145.3ZM216.79,157.82L218.29,156.32L219.79,157.82L218.29,159.32ZM218.69,165.12L220.19,163.62L221.69,165.12L220.19,166.62ZM220.59,174.22L222.09,172.72L223.59,174.22L222.09,175.72ZM222.49,174.27L223.99,172.77L225.49,174.27L223.99,175.77ZM224.39,192.1L225.89,190.6L227.39,192.1L225.89,193.6ZM226.29,187.34L227.79,185.84L229.29,187.34L227.79,188.84ZM228.19,193.71L229.69,192.21L231.19,193.71L229.69,195.21ZM230.09,194.06L231.59,192.56L233.09,194.06L231.59,195.56ZM231.99,198.54L233.49,197.04L234.99,198.54L233.49,200.04ZM233.89,199.27L235.39,197.77L236.89,199.27L235.39,200.77ZM235.79,201.06L237.29,199.56L238.79,201.06L237.29,202.56ZM237.69,204.05L239.19,202.55L240.69,204.05L239.19,205.55ZM239.58,210.01L241.08,208.51L242.58,210.01L241.08,211.51ZM241.48,205.54L242.98,204.04L244.48,205.54L242.98,207.04ZM243.38,204.05L244.88,202.55L246.38,204.05L244.88,205.55ZM245.28,206.14L246.78,204.64L248.28,206.14L246.78,207.64ZM247.18,214.16L248.68,212.66L250.18,214.16L248.68,215.66ZM249.08,212.9L250.58,211.4L252.08,212.9L250.58,214.4ZM250.98,214.16L252.48,212.66L253.98,214.16L252.48,215.66ZM252.88,216.92L254.38,215.42L255.88,216.92L254.38,218.42ZM254.78,216.08L256.28,214.58L257.78,216.08L256.28,217.58ZM256.68,214.93L258.18,213.43L259.68,214.93L258.18,216.43ZM258.58,213.91L260.08,212.41L261.58,213.91L260.08,215.41ZM260.48,215.47L261.98,213.97L263.48,215.47L261.98,216.97ZM262.38,218.42L263.88,216.92L265.38,218.42L263.88,219.92ZM264.28,218.09L265.78,216.59L267.28,218.09L265.78,219.59ZM266.17,220.64L267.67,219.14L269.17,220.64L267.67,222.14ZM268.07,218.58L269.57,217.08L271.07,218.58L269.57,220.08ZM269.97,221.07L271.47,219.57L272.97,221.07L271.47,222.57ZM271.87,219.8L273.37,218.3L274.87,219.8L273.37,221.3ZM273.77,219.6L275.27,218.1L276.77,219.6L275.27,221.1ZM275.67,219.68L277.17,218.18L278.67,219.68L277.17,221.18ZM277.57,220.55L279.07,219.05L280.57,220.55L279.07,222.05ZM279.47,222.36L280.97,220.86L282.47,222.36L280.97,223.86ZM281.37,224.12L282.87,222.62L284.37,224.12L282.87,225.62ZM283.27,221.83L284.77,220.33L286.27,221.83L284.77,223.33ZM285.17,223.21L286.67,221.71L288.17,223.21L286.67,224.71ZM287.07,221.29L288.57,219.79L290.07,221.29L288.57,222.79ZM288.97,221.62L290.47,220.12L291.97,221.62L290.47,223.12ZM290.87,224.19L292.37,222.69L293.87,224.19L292.37,225.69ZM292.77,222.85L294.27,221.35L295.77,222.85L294.27,224.35ZM294.66,222.68L296.16,221.18L297.66,222.68L296.16,224.18ZM296.56,223.63L298.06,222.13L299.56,223.63L298.06,225.13ZM298.46,223.57L299.96,222.07L301.46,223.57L299.96,225.07ZM300.36,222.35L301.86,220.85L303.36,222.35L301.86,223.85ZM302.26,223.04L303.76,221.54L305.26,223.04L303.76,224.54ZM304.16,223.27L305.66,221.77L307.16,223.27L305.66,224.77ZM306.06,223.62L307.56,222.12L309.06,223.62L307.56,225.12ZM307.96,223.21L309.46,221.71L310.96,223.21L309.46,224.71ZM309.86,223.51L311.36,222.01L312.86,223.51L311.36,225.01ZM311.76,223.75L313.26,222.25L314.76,223.75L313.26,225.25ZM313.66,224.65L315.16,223.15L316.66,224.65L315.16,226.15ZM315.56,225.22L317.06,223.72L318.56,225.22L317.06,226.72ZM317.46,225.78L318.96,224.28L320.46,225.78L318.96,227.28ZM319.36,224.01L320.86,222.51L322.36,224.01L320.86,225.51ZM321.26,226.59L322.76,225.09L324.26,226.59L322.76,228.09ZM323.15,225.86L324.65,224.36L326.15,225.86L324.65,227.36ZM325.05,225.91L326.55,224.41L328.05,225.91L326.55,227.41ZM326.95,226.65L328.45,225.15L329.95,226.65L328.45,228.15ZM328.85,226.04L330.35,224.54L331.85,226.04L330.35,227.54ZM330.75,225.66L332.25,224.16L333.75,225.66L332.25,227.16ZM332.65,226.54L334.15,225.04L335.65,226.54L334.15,228.04ZM334.55,225.17L336.05,223.67L337.55,225.17L336.05,226.67ZM336.45,225.31L337.95,223.81L339.45,225.31L337.95,226.81Z" fill="#7040bf"/>
<path d="M54.95,223.81 L56.85,224.88 L58.75,223.85 L60.65,224.81 L62.55,223.2 L64.45,221.1 L66.35,223.37 L68.25,222.63 L70.14,223.97 L72.04,221.63 L73.94,222.14 L75.84,221.83 L77.74,221.83 L79.64,220.92 L81.54,222.4 L83.44,220.26 L85.34,222.99 L87.24,220.16 L89.14,220.51 L91.04,221.66 L92.94,219.63 L94.84,218.85 L96.73,216.18 L98.63,219.36 L100.53,220.58 L102.43,219.71 L104.33,214.81 L106.23,219.26 L108.13,217.47 L110.03,217.47 L111.93,215.88 L113.83,219.46 L115.73,213.94 L117.63,218.09 L119.53,212.24 L121.43,215.36 L123.33,215.07 L125.22,212.05 L127.12,216.34 L129.02,208.2 L130.92,210.89 L132.82,210.94 L134.72,215.13 L136.62,212.82 L138.52,209.25 L140.42,208.27 L142.32,203.96 L144.22,208.86 L146.12,200.47 L148.02,200.49 L149.92,203.14 L151.82,196.16 L153.71,191.97 L155.61,197.46 L157.51,186.9 L159.41,184.57 L161.31,178.17 L163.21,180.63 L165.11,171.84 L167.01,171.53 L168.91,163.78 L170.81,136.94 L172.71,133.66 L174.61,133.95 L176.51,127.99 L178.41,99.95 L180.31,87.72 L182.2,74.6 L184.1,64.46 L186,70.72 L187.9,126.95 L189.8,143.8 L191.7,154.83 L193.6,163.48 L195.5,172.88 L197.4,182.12 L199.3,169.75 L201.2,148.72 L203.1,107.11 L205,104.43 L206.9,110.09 L208.8,117.55 L210.69,120.53 L212.59,104.58 L214.49,117.25 L216.39,132.46 L218.29,151.85 L220.19,160.8 L222.09,169.75 L223.99,178.69 L225.89,194.96 L227.79,202.17 L229.69,190.41 L231.59,201.67 L233.49,206.06 L235.39,199.94 L237.29,209.38 L239.19,205.38 L241.08,204.09 L242.98,215.09 L244.88,213.44 L246.78,213.15 L248.68,214.41 L250.58,213.45 L252.48,215.6 L254.38,217.86 L256.28,213.02 L258.18,214.82 L260.08,217.73 L261.98,221.29 L263.88,219.21 L265.78,220.24 L267.67,218.99 L269.57,217.21 L271.47,222.01 L273.37,221.19 L275.27,223.53 L277.17,219.25 L279.07,221.03 L280.97,220.19 L282.87,222.48 L284.77,222.75 L286.67,222.84 L288.57,223 L290.47,220.77 L292.37,221.16 L294.27,222.81 L296.16,223.43 L298.06,223.62 L299.96,223.88 L301.86,225.52 L303.76,225.83 L305.66,223.83 L307.56,224.96 L309.46,225.09 L311.36,225.39 L313.26,225.68 L315.16,225.5 L317.06,225.06 L318.96,225.81 L320.86,225.7" fill="none" stroke="#f07a1a" stroke-width="1.15" stroke-linejoin="round"/>
<path d="M94.84,217.48V220.23M96.73,214.64V217.72M104.33,213.19V216.43M108.13,216.01V218.93M110.03,216V218.93M111.93,214.32V217.44M115.73,212.27V215.6M117.63,216.67V219.52M119.53,210.48V214M121.43,213.77V216.95M123.33,213.47V216.68M125.22,210.28V213.81M127.12,214.81V217.87M129.02,206.25V210.16M130.92,209.07V212.72M132.82,209.12V212.76M134.72,213.53V216.73M136.62,211.09V214.55M138.52,207.34V211.15M140.42,206.32V210.22M142.32,201.82V206.1M144.22,206.94V210.78M146.12,198.19V202.75M148.02,198.21V202.77M149.92,200.96V205.31M151.82,193.71V198.6M153.71,189.37V194.56M155.61,195.07V199.86M157.51,184.13V189.66M159.41,181.74V187.41M161.31,175.14V181.21M163.21,177.67V183.59M165.11,168.63V175.06M167.01,168.3V174.75M168.91,160.35V167.22M170.81,132.86V141.01M172.71,129.51V137.8M174.61,129.81V138.1M176.51,123.72V132.26M178.41,95.13V104.78M180.31,82.68V92.77M182.2,69.33V79.87M184.1,59.01V69.9M186,65.38V76.06M187.9,122.65V131.24M189.8,139.88V147.72M191.7,151.17V158.49M193.6,160.04V166.92M195.5,169.69V176.07M197.4,179.21V185.04M199.3,166.47V173.02M201.2,144.91V152.53M203.1,102.42V111.8M205,99.69V109.16M206.9,105.46V114.72M208.8,113.07V122.03M210.69,116.11V124.96M212.59,99.84V109.31M214.49,112.76V121.74M216.39,128.29V136.64M218.29,148.12V155.58M220.19,157.29V164.31M222.09,166.47V173.02M223.99,175.68V181.71M225.89,192.47V197.45M227.79,199.95V204.38M229.69,187.76V193.06M231.59,199.44V203.9M233.49,204.01V208.1M235.39,197.64V202.24M237.29,207.48V211.27M239.19,203.31V207.46M241.08,201.96V206.23M242.98,213.48V216.69M244.88,211.74V215.13M246.78,211.44V214.86M248.68,212.77V216.05M250.58,211.76V215.14M252.48,214.03V217.18M254.38,216.42V219.3M256.28,211.3V214.73M258.18,213.2V216.44M260.08,216.28V219.18M263.88,217.86V220.56M267.67,217.63V220.36M269.57,215.73V218.69M277.17,217.9V220.6" stroke="#f07a1a" stroke-width="1.15" fill="none"/>
<path d="M53.45,223.81L54.95,222.31L56.45,223.81L54.95,225.31ZM55.35,224.88L56.85,223.38L58.35,224.88L56.85,226.38ZM57.25,223.85L58.75,222.35L60.25,223.85L58.75,225.35ZM59.15,224.81L60.65,223.31L62.15,224.81L60.65,226.31ZM61.05,223.2L62.55,221.7L64.05,223.2L62.55,224.7ZM62.95,221.1L64.45,219.6L65.95,221.1L64.45,222.6ZM64.85,223.37L66.35,221.87L67.85,223.37L66.35,224.87ZM66.75,222.63L68.25,221.13L69.75,222.63L68.25,224.13ZM68.64,223.97L70.14,222.47L71.64,223.97L70.14,225.47ZM70.54,221.63L72.04,220.13L73.54,221.63L72.04,223.13ZM72.44,222.14L73.94,220.64L75.44,222.14L73.94,223.64ZM74.34,221.83L75.84,220.33L77.34,221.83L75.84,223.33ZM76.24,221.83L77.74,220.33L79.24,221.83L77.74,223.33ZM78.14,220.92L79.64,219.42L81.14,220.92L79.64,222.42ZM80.04,222.4L81.54,220.9L83.04,222.4L81.54,223.9ZM81.94,220.26L83.44,218.76L84.94,220.26L83.44,221.76ZM83.84,222.99L85.34,221.49L86.84,222.99L85.34,224.49ZM85.74,220.16L87.24,218.66L88.74,220.16L87.24,221.66ZM87.64,220.51L89.14,219.01L90.64,220.51L89.14,222.01ZM89.54,221.66L91.04,220.16L92.54,221.66L91.04,223.16ZM91.44,219.63L92.94,218.13L94.44,219.63L92.94,221.13ZM93.34,218.85L94.84,217.35L96.34,218.85L94.84,220.35ZM95.23,216.18L96.73,214.68L98.23,216.18L96.73,217.68ZM97.13,219.36L98.63,217.86L100.13,219.36L98.63,220.86ZM99.03,220.58L100.53,219.08L102.03,220.58L100.53,222.08ZM100.93,219.71L102.43,218.21L103.93,219.71L102.43,221.21ZM102.83,214.81L104.33,213.31L105.83,214.81L104.33,216.31ZM104.73,219.26L106.23,217.76L107.73,219.26L106.23,220.76ZM106.63,217.47L108.13,215.97L109.63,217.47L108.13,218.97ZM108.53,217.47L110.03,215.97L111.53,217.47L110.03,218.97ZM110.43,215.88L111.93,214.38L113.43,215.88L111.93,217.38ZM112.33,219.46L113.83,217.96L115.33,219.46L113.83,220.96ZM114.23,213.94L115.73,212.44L117.23,213.94L115.73,215.44ZM116.13,218.09L117.63,216.59L119.13,218.09L117.63,219.59ZM118.03,212.24L119.53,210.74L121.03,212.24L119.53,213.74ZM119.93,215.36L121.43,213.86L122.93,215.36L121.43,216.86ZM121.83,215.07L123.33,213.57L124.83,215.07L123.33,216.57ZM123.72,212.05L125.22,210.55L126.72,212.05L125.22,213.55ZM125.62,216.34L127.12,214.84L128.62,216.34L127.12,217.84ZM127.52,208.2L129.02,206.7L130.52,208.2L129.02,209.7ZM129.42,210.89L130.92,209.39L132.42,210.89L130.92,212.39ZM131.32,210.94L132.82,209.44L134.32,210.94L132.82,212.44ZM133.22,215.13L134.72,213.63L136.22,215.13L134.72,216.63ZM135.12,212.82L136.62,211.32L138.12,212.82L136.62,214.32ZM137.02,209.25L138.52,207.75L140.02,209.25L138.52,210.75ZM138.92,208.27L140.42,206.77L141.92,208.27L140.42,209.77ZM140.82,203.96L142.32,202.46L143.82,203.96L142.32,205.46ZM142.72,208.86L144.22,207.36L145.72,208.86L144.22,210.36ZM144.62,200.47L146.12,198.97L147.62,200.47L146.12,201.97ZM146.52,200.49L148.02,198.99L149.52,200.49L148.02,201.99ZM148.42,203.14L149.92,201.64L151.42,203.14L149.92,204.64ZM150.32,196.16L151.82,194.66L153.32,196.16L151.82,197.66ZM152.21,191.97L153.71,190.47L155.21,191.97L153.71,193.47ZM154.11,197.46L155.61,195.96L157.11,197.46L155.61,198.96ZM156.01,186.9L157.51,185.4L159.01,186.9L157.51,188.4ZM157.91,184.57L159.41,183.07L160.91,184.57L159.41,186.07ZM159.81,178.17L161.31,176.67L162.81,178.17L161.31,179.67ZM161.71,180.63L163.21,179.13L164.71,180.63L163.21,182.13ZM163.61,171.84L165.11,170.34L166.61,171.84L165.11,173.34ZM165.51,171.53L167.01,170.03L168.51,171.53L167.01,173.03ZM167.41,163.78L168.91,162.28L170.41,163.78L168.91,165.28ZM169.31,136.94L170.81,135.44L172.31,136.94L170.81,138.44ZM171.21,133.66L172.71,132.16L174.21,133.66L172.71,135.16ZM173.11,133.95L174.61,132.45L176.11,133.95L174.61,135.45ZM175.01,127.99L176.51,126.49L178.01,127.99L176.51,129.49ZM176.91,99.95L178.41,98.45L179.91,99.95L178.41,101.45ZM178.81,87.72L180.31,86.22L181.81,87.72L180.31,89.22ZM180.7,74.6L182.2,73.1L183.7,74.6L182.2,76.1ZM182.6,64.46L184.1,62.96L185.6,64.46L184.1,65.96ZM184.5,70.72L186,69.22L187.5,70.72L186,72.22ZM186.4,126.95L187.9,125.45L189.4,126.95L187.9,128.45ZM188.3,143.8L189.8,142.3L191.3,143.8L189.8,145.3ZM190.2,154.83L191.7,153.33L193.2,154.83L191.7,156.33ZM192.1,163.48L193.6,161.98L195.1,163.48L193.6,164.98ZM194,172.88L195.5,171.38L197,172.88L195.5,174.38ZM195.9,182.12L197.4,180.62L198.9,182.12L197.4,183.62ZM197.8,169.75L199.3,168.25L200.8,169.75L199.3,171.25ZM199.7,148.72L201.2,147.22L202.7,148.72L201.2,150.22ZM201.6,107.11L203.1,105.61L204.6,107.11L203.1,108.61ZM203.5,104.43L205,102.93L206.5,104.43L205,105.93ZM205.4,110.09L206.9,108.59L208.4,110.09L206.9,111.59ZM207.3,117.55L208.8,116.05L210.3,117.55L208.8,119.05ZM209.19,120.53L210.69,119.03L212.19,120.53L210.69,122.03ZM211.09,104.58L212.59,103.08L214.09,104.58L212.59,106.08ZM212.99,117.25L214.49,115.75L215.99,117.25L214.49,118.75ZM214.89,132.46L216.39,130.96L217.89,132.46L216.39,133.96ZM216.79,151.85L218.29,150.35L219.79,151.85L218.29,153.35ZM218.69,160.8L220.19,159.3L221.69,160.8L220.19,162.3ZM220.59,169.75L222.09,168.25L223.59,169.75L222.09,171.25ZM222.49,178.69L223.99,177.19L225.49,178.69L223.99,180.19ZM224.39,194.96L225.89,193.46L227.39,194.96L225.89,196.46ZM226.29,202.17L227.79,200.67L229.29,202.17L227.79,203.67ZM228.19,190.41L229.69,188.91L231.19,190.41L229.69,191.91ZM230.09,201.67L231.59,200.17L233.09,201.67L231.59,203.17ZM231.99,206.06L233.49,204.56L234.99,206.06L233.49,207.56ZM233.89,199.94L235.39,198.44L236.89,199.94L235.39,201.44ZM235.79,209.38L237.29,207.88L238.79,209.38L237.29,210.88ZM237.69,205.38L239.19,203.88L240.69,205.38L239.19,206.88ZM239.58,204.09L241.08,202.59L242.58,204.09L241.08,205.59ZM241.48,215.09L242.98,213.59L244.48,215.09L242.98,216.59ZM243.38,213.44L244.88,211.94L246.38,213.44L244.88,214.94ZM245.28,213.15L246.78,211.65L248.28,213.15L246.78,214.65ZM247.18,214.41L248.68,212.91L250.18,214.41L248.68,215.91ZM249.08,213.45L250.58,211.95L252.08,213.45L250.58,214.95ZM250.98,215.6L252.48,214.1L253.98,215.6L252.48,217.1ZM252.88,217.86L254.38,216.36L255.88,217.86L254.38,219.36ZM254.78,213.02L256.28,211.52L257.78,213.02L256.28,214.52ZM256.68,214.82L258.18,213.32L259.68,214.82L258.18,216.32ZM258.58,217.73L260.08,216.23L261.58,217.73L260.08,219.23ZM260.48,221.29L261.98,219.79L263.48,221.29L261.98,222.79ZM262.38,219.21L263.88,217.71L265.38,219.21L263.88,220.71ZM264.28,220.24L265.78,218.74L267.28,220.24L265.78,221.74ZM266.17,218.99L267.67,217.49L269.17,218.99L267.67,220.49ZM268.07,217.21L269.57,215.71L271.07,217.21L269.57,218.71ZM269.97,222.01L271.47,220.51L272.97,222.01L271.47,223.51ZM271.87,221.19L273.37,219.69L274.87,221.19L273.37,222.69ZM273.77,223.53L275.27,222.03L276.77,223.53L275.27,225.03ZM275.67,219.25L277.17,217.75L278.67,219.25L277.17,220.75ZM277.57,221.03L279.07,219.53L280.57,221.03L279.07,222.53ZM279.47,220.19L280.97,218.69L282.47,220.19L280.97,221.69ZM281.37,222.48L282.87,220.98L284.37,222.48L282.87,223.98ZM283.27,222.75L284.77,221.25L286.27,222.75L284.77,224.25ZM285.17,222.84L286.67,221.34L288.17,222.84L286.67,224.34ZM287.07,223L288.57,221.5L290.07,223L288.57,224.5ZM288.97,220.77L290.47,219.27L291.97,220.77L290.47,222.27ZM290.87,221.16L292.37,219.66L293.87,221.16L292.37,222.66ZM292.77,222.81L294.27,221.31L295.77,222.81L294.27,224.31ZM294.66,223.43L296.16,221.93L297.66,223.43L296.16,224.93ZM296.56,223.62L298.06,222.12L299.56,223.62L298.06,225.12ZM298.46,223.88L299.96,222.38L301.46,223.88L299.96,225.38ZM300.36,225.52L301.86,224.02L303.36,225.52L301.86,227.02ZM302.26,225.83L303.76,224.33L305.26,225.83L303.76,227.33ZM304.16,223.83L305.66,222.33L307.16,223.83L305.66,225.33ZM306.06,224.96L307.56,223.46L309.06,224.96L307.56,226.46ZM307.96,225.09L309.46,223.59L310.96,225.09L309.46,226.59ZM309.86,225.39L311.36,223.89L312.86,225.39L311.36,226.89ZM311.76,225.68L313.26,224.18L314.76,225.68L313.26,227.18ZM313.66,225.5L315.16,224L316.66,225.5L315.16,227ZM315.56,225.06L317.06,223.56L318.56,225.06L317.06,226.56ZM317.46,225.81L318.96,224.31L320.46,225.81L318.96,227.31ZM319.36,225.7L320.86,224.2L322.36,225.7L320.86,227.2Z" fill="#f07a1a"/>
<path d="M54.95,224.97 L56.85,226.17 L58.75,222.75 L60.65,224.15 L62.55,224.24 L64.45,224.6 L66.35,221.59 L68.25,223.95 L70.14,221.19 L72.04,223.05 L73.94,225.59 L75.84,224.35 L77.74,222.4 L79.64,222.79 L81.54,221.53 L83.44,224.63 L85.34,224.42 L87.24,223.94 L89.14,221.93 L91.04,220.42 L92.94,220.79 L94.84,220.3 L96.73,220.5 L98.63,221.46 L100.53,220.1 L102.43,219.64 L104.33,219.83 L106.23,221.15 L108.13,219.72 L110.03,218.7 L111.93,217.57 L113.83,215.02 L115.73,217.13 L117.63,216.35 L119.53,215.98 L121.43,214.71 L123.33,213.57 L125.22,213.38 L127.12,214.28 L129.02,209.77 L130.92,210.47 L132.82,212.48 L134.72,208.67 L136.62,208.57 L138.52,206.99 L140.42,203.86 L142.32,203.24 L144.22,208.62 L146.12,201.11 L148.02,198.68 L149.92,206.72 L151.82,190.2 L153.71,190.77 L155.61,193.4 L157.51,188.72 L159.41,188.54 L161.31,188.77 L163.21,169.75 L165.11,161.25 L167.01,152.75 L168.91,142.9 L170.81,125.75 L172.71,122.02 L174.61,113.97 L176.51,120.68 L178.41,125.01 L180.31,129.78 L182.2,123.66 L184.1,39.7 L186,30.75 L187.9,79.07 L189.8,104.43 L191.7,48.5 L193.6,133.06 L195.5,142.01 L197.4,115.46 L199.3,117.1 L201.2,104.43 L203.1,78.03 L205,113.08 L206.9,113.82 L208.8,136.94 L210.69,144.84 L212.59,147.38 L214.49,154.83 L216.39,161.69 L218.29,177.95 L220.19,169.75 L222.09,176.46 L223.99,183.17 L225.89,186.45 L227.79,193.16 L229.69,191.23" fill="none" stroke="#e0301c" stroke-width="1.15" stroke-linejoin="round"/>
<path d="M110.03,217.31V220.08M111.93,216.11V219.03M113.83,213.41V216.63M115.73,215.65V218.62M117.63,214.82V217.88M119.53,214.43V217.53M121.43,213.08V216.33M123.33,211.88V215.25M125.22,211.68V215.08M127.12,212.63V215.93M129.02,207.89V211.65M130.92,208.63V212.32M132.82,210.73V214.22M134.72,206.74V210.6M136.62,206.63V210.5M138.52,204.98V208.99M140.42,201.72V206.01M142.32,201.07V205.41M144.22,206.68V210.55M146.12,198.86V203.37M148.02,196.33V201.03M149.92,204.7V208.74M151.82,187.55V192.86M153.71,188.14V193.41M155.61,190.85V195.94M157.51,186.02V191.43M159.41,185.83V191.25M161.31,186.06V191.47M163.21,166.47V173.02M165.11,157.75V164.75M167.01,149.03V156.46M168.91,138.96V146.84M170.81,121.44V130.07M172.71,117.63V126.42M174.61,109.42V118.52M176.51,116.26V125.1M178.41,120.68V129.34M180.31,125.55V134.01M182.2,119.31V128.02M184.1,33.86V45.54M186,24.78V36.73M187.9,73.88V84.27M189.8,99.69V109.16M191.7,42.8V54.2M193.6,128.9V137.22M195.5,138.05V145.97M197.4,110.94V119.99M199.3,112.61V121.59M201.2,99.69V109.16M203.1,72.81V83.24M205,108.5V117.65M206.9,109.26V118.38M208.8,132.86V141.01M210.69,140.94V148.74M212.59,143.54V151.22M214.49,151.17V158.49M216.39,158.21V165.18M218.29,174.91V180.99M220.19,166.47V173.02M222.09,173.37V179.54M223.99,180.29V186.05M225.89,183.67V189.23M227.79,190.61V195.71M229.69,188.61V193.85" stroke="#e0301c" stroke-width="1.15" fill="none"/>
<path d="M53.45,224.97L54.95,223.47L56.45,224.97L54.95,226.47ZM55.35,226.17L56.85,224.67L58.35,226.17L56.85,227.67ZM57.25,222.75L58.75,221.25L60.25,222.75L58.75,224.25ZM59.15,224.15L60.65,222.65L62.15,224.15L60.65,225.65ZM61.05,224.24L62.55,222.74L64.05,224.24L62.55,225.74ZM62.95,224.6L64.45,223.1L65.95,224.6L64.45,226.1ZM64.85,221.59L66.35,220.09L67.85,221.59L66.35,223.09ZM66.75,223.95L68.25,222.45L69.75,223.95L68.25,225.45ZM68.64,221.19L70.14,219.69L71.64,221.19L70.14,222.69ZM70.54,223.05L72.04,221.55L73.54,223.05L72.04,224.55ZM72.44,225.59L73.94,224.09L75.44,225.59L73.94,227.09ZM74.34,224.35L75.84,222.85L77.34,224.35L75.84,225.85ZM76.24,222.4L77.74,220.9L79.24,222.4L77.74,223.9ZM78.14,222.79L79.64,221.29L81.14,222.79L79.64,224.29ZM80.04,221.53L81.54,220.03L83.04,221.53L81.54,223.03ZM81.94,224.63L83.44,223.13L84.94,224.63L83.44,226.13ZM83.84,224.42L85.34,222.92L86.84,224.42L85.34,225.92ZM85.74,223.94L87.24,222.44L88.74,223.94L87.24,225.44ZM87.64,221.93L89.14,220.43L90.64,221.93L89.14,223.43ZM89.54,220.42L91.04,218.92L92.54,220.42L91.04,221.92ZM91.44,220.79L92.94,219.29L94.44,220.79L92.94,222.29ZM93.34,220.3L94.84,218.8L96.34,220.3L94.84,221.8ZM95.23,220.5L96.73,219L98.23,220.5L96.73,222ZM97.13,221.46L98.63,219.96L100.13,221.46L98.63,222.96ZM99.03,220.1L100.53,218.6L102.03,220.1L100.53,221.6ZM100.93,219.64L102.43,218.14L103.93,219.64L102.43,221.14ZM102.83,219.83L104.33,218.33L105.83,219.83L104.33,221.33ZM104.73,221.15L106.23,219.65L107.73,221.15L106.23,222.65ZM106.63,219.72L108.13,218.22L109.63,219.72L108.13,221.22ZM108.53,218.7L110.03,217.2L111.53,218.7L110.03,220.2ZM110.43,217.57L111.93,216.07L113.43,217.57L111.93,219.07ZM112.33,215.02L113.83,213.52L115.33,215.02L113.83,216.52ZM114.23,217.13L115.73,215.63L117.23,217.13L115.73,218.63ZM116.13,216.35L117.63,214.85L119.13,216.35L117.63,217.85ZM118.03,215.98L119.53,214.48L121.03,215.98L119.53,217.48ZM119.93,214.71L121.43,213.21L122.93,214.71L121.43,216.21ZM121.83,213.57L123.33,212.07L124.83,213.57L123.33,215.07ZM123.72,213.38L125.22,211.88L126.72,213.38L125.22,214.88ZM125.62,214.28L127.12,212.78L128.62,214.28L127.12,215.78ZM127.52,209.77L129.02,208.27L130.52,209.77L129.02,211.27ZM129.42,210.47L130.92,208.97L132.42,210.47L130.92,211.97ZM131.32,212.48L132.82,210.98L134.32,212.48L132.82,213.98ZM133.22,208.67L134.72,207.17L136.22,208.67L134.72,210.17ZM135.12,208.57L136.62,207.07L138.12,208.57L136.62,210.07ZM137.02,206.99L138.52,205.49L140.02,206.99L138.52,208.49ZM138.92,203.86L140.42,202.36L141.92,203.86L140.42,205.36ZM140.82,203.24L142.32,201.74L143.82,203.24L142.32,204.74ZM142.72,208.62L144.22,207.12L145.72,208.62L144.22,210.12ZM144.62,201.11L146.12,199.61L147.62,201.11L146.12,202.61ZM146.52,198.68L148.02,197.18L149.52,198.68L148.02,200.18ZM148.42,206.72L149.92,205.22L151.42,206.72L149.92,208.22ZM150.32,190.2L151.82,188.7L153.32,190.2L151.82,191.7ZM152.21,190.77L153.71,189.27L155.21,190.77L153.71,192.27ZM154.11,193.4L155.61,191.9L157.11,193.4L155.61,194.9ZM156.01,188.72L157.51,187.22L159.01,188.72L157.51,190.22ZM157.91,188.54L159.41,187.04L160.91,188.54L159.41,190.04ZM159.81,188.77L161.31,187.27L162.81,188.77L161.31,190.27ZM161.71,169.75L163.21,168.25L164.71,169.75L163.21,171.25ZM163.61,161.25L165.11,159.75L166.61,161.25L165.11,162.75ZM165.51,152.75L167.01,151.25L168.51,152.75L167.01,154.25ZM167.41,142.9L168.91,141.4L170.41,142.9L168.91,144.4ZM169.31,125.75L170.81,124.25L172.31,125.75L170.81,127.25ZM171.21,122.02L172.71,120.52L174.21,122.02L172.71,123.52ZM173.11,113.97L174.61,112.47L176.11,113.97L174.61,115.47ZM175.01,120.68L176.51,119.18L178.01,120.68L176.51,122.18ZM176.91,125.01L178.41,123.51L179.91,125.01L178.41,126.51ZM178.81,129.78L180.31,128.28L181.81,129.78L180.31,131.28ZM180.7,123.66L182.2,122.16L183.7,123.66L182.2,125.16ZM182.6,39.7L184.1,38.2L185.6,39.7L184.1,41.2ZM184.5,30.75L186,29.25L187.5,30.75L186,32.25ZM186.4,79.07L187.9,77.57L189.4,79.07L187.9,80.57ZM188.3,104.43L189.8,102.93L191.3,104.43L189.8,105.93ZM190.2,48.5L191.7,47L193.2,48.5L191.7,50ZM192.1,133.06L193.6,131.56L195.1,133.06L193.6,134.56ZM194,142.01L195.5,140.51L197,142.01L195.5,143.51ZM195.9,115.46L197.4,113.96L198.9,115.46L197.4,116.96ZM197.8,117.1L199.3,115.6L200.8,117.1L199.3,118.6ZM199.7,104.43L201.2,102.93L202.7,104.43L201.2,105.93ZM201.6,78.03L203.1,76.53L204.6,78.03L203.1,79.53ZM203.5,113.08L205,111.58L206.5,113.08L205,114.58ZM205.4,113.82L206.9,112.32L208.4,113.82L206.9,115.32ZM207.3,136.94L208.8,135.44L210.3,136.94L208.8,138.44ZM209.19,144.84L210.69,143.34L212.19,144.84L210.69,146.34ZM211.09,147.38L212.59,145.88L214.09,147.38L212.59,148.88ZM212.99,154.83L214.49,153.33L215.99,154.83L214.49,156.33ZM214.89,161.69L216.39,160.19L217.89,161.69L216.39,163.19ZM216.79,177.95L218.29,176.45L219.79,177.95L218.29,179.45ZM218.69,169.75L220.19,168.25L221.69,169.75L220.19,171.25ZM220.59,176.46L222.09,174.96L223.59,176.46L222.09,177.96ZM222.49,183.17L223.99,181.67L225.49,183.17L223.99,184.67ZM224.39,186.45L225.89,184.95L227.39,186.45L225.89,187.95ZM226.29,193.16L227.79,191.66L229.29,193.16L227.79,194.66ZM228.19,191.23L229.69,189.73L231.19,191.23L229.69,192.73Z" fill="#e0301c"/>
</g>
<g clip-path="url(#cb)">
<path d="M370.94,221.4 L376.64,221.07 L382.34,223.43 L388.03,222.84 L393.73,217.66 L399.43,218.56 L405.13,216.46 L410.83,216.27 L416.52,212.4 L422.22,216.43 L427.92,214.49 L433.62,214.19 L439.32,213.74 L445.01,210.91 L450.71,204.79 L456.41,200.02 L462.11,195.1 L467.81,195.84 L473.5,191.82 L479.2,194.65 L484.9,193.61 L490.6,194.06 L496.3,199.13 L502,194.06 L507.69,197.49 L513.39,198.98 L519.09,206.28 L524.79,214.49 L530.49,211.06 L536.18,215.83 L541.88,216.72 L547.58,217.47 L553.28,218.96 L558.98,217.32 L564.67,221.47 L570.37,221.25 L576.07,223.1 L581.77,222.9 L587.47,224.1 L593.16,224.46 L598.86,224.26 L604.56,223.96 L610.26,225.23 L615.96,225.27 L621.65,224.9 L627.35,224.64" fill="none" stroke="#15923a" stroke-width="1.0" stroke-linejoin="round"/>
<path d="M456.41,198.67V201.37M462.11,193.64V196.56M467.81,194.4V197.29M473.5,190.29V193.35M479.2,193.18V196.12M484.9,192.12V195.1M490.6,192.57V195.54M496.3,197.75V200.5M502,192.57V195.54M507.69,196.08V198.89M513.39,197.6V200.35" stroke="#15923a" stroke-width="1.0" fill="none"/>
<g fill="#15923a"><circle cx="370.94" cy="221.4" r="1.5"/><circle cx="376.64" cy="221.07" r="1.5"/><circle cx="382.34" cy="223.43" r="1.5"/><circle cx="388.03" cy="222.84" r="1.5"/><circle cx="393.73" cy="217.66" r="1.5"/><circle cx="399.43" cy="218.56" r="1.5"/><circle cx="405.13" cy="216.46" r="1.5"/><circle cx="410.83" cy="216.27" r="1.5"/><circle cx="416.52" cy="212.4" r="1.5"/><circle cx="422.22" cy="216.43" r="1.5"/><circle cx="427.92" cy="214.49" r="1.5"/><circle cx="433.62" cy="214.19" r="1.5"/><circle cx="439.32" cy="213.74" r="1.5"/><circle cx="445.01" cy="210.91" r="1.5"/><circle cx="450.71" cy="204.79" r="1.5"/><circle cx="456.41" cy="200.02" r="1.5"/><circle cx="462.11" cy="195.1" r="1.5"/><circle cx="467.81" cy="195.84" r="1.5"/><circle cx="473.5" cy="191.82" r="1.5"/><circle cx="479.2" cy="194.65" r="1.5"/><circle cx="484.9" cy="193.61" r="1.5"/><circle cx="490.6" cy="194.06" r="1.5"/><circle cx="496.3" cy="199.13" r="1.5"/><circle cx="502" cy="194.06" r="1.5"/><circle cx="507.69" cy="197.49" r="1.5"/><circle cx="513.39" cy="198.98" r="1.5"/><circle cx="519.09" cy="206.28" r="1.5"/><circle cx="524.79" cy="214.49" r="1.5"/><circle cx="530.49" cy="211.06" r="1.5"/><circle cx="536.18" cy="215.83" r="1.5"/><circle cx="541.88" cy="216.72" r="1.5"/><circle cx="547.58" cy="217.47" r="1.5"/><circle cx="553.28" cy="218.96" r="1.5"/><circle cx="558.98" cy="217.32" r="1.5"/><circle cx="564.67" cy="221.47" r="1.5"/><circle cx="570.37" cy="221.25" r="1.5"/><circle cx="576.07" cy="223.1" r="1.5"/><circle cx="581.77" cy="222.9" r="1.5"/><circle cx="587.47" cy="224.1" r="1.5"/><circle cx="593.16" cy="224.46" r="1.5"/><circle cx="598.86" cy="224.26" r="1.5"/><circle cx="604.56" cy="223.96" r="1.5"/><circle cx="610.26" cy="225.23" r="1.5"/><circle cx="615.96" cy="225.27" r="1.5"/><circle cx="621.65" cy="224.9" r="1.5"/><circle cx="627.35" cy="224.64" r="1.5"/></g>
<path d="M370.94,223.14 L376.64,219.71 L382.34,219.38 L388.03,219.07 L393.73,216.77 L399.43,218.63 L405.13,215.47 L410.83,216.51 L416.52,217.02 L422.22,215.23 L427.92,215.23 L433.62,208.52 L439.32,207.63 L445.01,206.58 L450.71,202.41 L456.41,197.49 L462.11,187.05 L467.81,164.53 L473.5,155.43 L479.2,167.21 L484.9,176.01 L490.6,174.37 L496.3,183.32 L502,189.73 L507.69,199.13 L513.39,203.6 L519.09,208.82 L524.79,209.12 L530.49,211.95 L536.18,214.93 L541.88,217.32 L547.58,219.71 L553.28,222.99 L558.98,220.15 L564.67,221.23 L570.37,222.2 L576.07,222.51 L581.77,222.14 L587.47,223.9 L593.16,223.64 L598.86,223.93 L604.56,224.64 L610.26,224.63 L615.96,225.49 L621.65,225.64 L627.35,225.57" fill="none" stroke="#000000" stroke-width="1.0" stroke-linejoin="round"/>
<path d="M456.41,196.08V198.89M462.11,185.42V188.67M467.81,162.52V166.53M473.5,153.29V157.57M479.2,165.25V169.18M484.9,174.19V177.83M490.6,172.52V176.22M496.3,181.63V185.01M502,188.16V191.3M507.69,197.75V200.5" stroke="#000000" stroke-width="1.0" fill="none"/>
<g fill="#000000"><circle cx="370.94" cy="223.14" r="1.5"/><circle cx="376.64" cy="219.71" r="1.5"/><circle cx="382.34" cy="219.38" r="1.5"/><circle cx="388.03" cy="219.07" r="1.5"/><circle cx="393.73" cy="216.77" r="1.5"/><circle cx="399.43" cy="218.63" r="1.5"/><circle cx="405.13" cy="215.47" r="1.5"/><circle cx="410.83" cy="216.51" r="1.5"/><circle cx="416.52" cy="217.02" r="1.5"/><circle cx="422.22" cy="215.23" r="1.5"/><circle cx="427.92" cy="215.23" r="1.5"/><circle cx="433.62" cy="208.52" r="1.5"/><circle cx="439.32" cy="207.63" r="1.5"/><circle cx="445.01" cy="206.58" r="1.5"/><circle cx="450.71" cy="202.41" r="1.5"/><circle cx="456.41" cy="197.49" r="1.5"/><circle cx="462.11" cy="187.05" r="1.5"/><circle cx="467.81" cy="164.53" r="1.5"/><circle cx="473.5" cy="155.43" r="1.5"/><circle cx="479.2" cy="167.21" r="1.5"/><circle cx="484.9" cy="176.01" r="1.5"/><circle cx="490.6" cy="174.37" r="1.5"/><circle cx="496.3" cy="183.32" r="1.5"/><circle cx="502" cy="189.73" r="1.5"/><circle cx="507.69" cy="199.13" r="1.5"/><circle cx="513.39" cy="203.6" r="1.5"/><circle cx="519.09" cy="208.82" r="1.5"/><circle cx="524.79" cy="209.12" r="1.5"/><circle cx="530.49" cy="211.95" r="1.5"/><circle cx="536.18" cy="214.93" r="1.5"/><circle cx="541.88" cy="217.32" r="1.5"/><circle cx="547.58" cy="219.71" r="1.5"/><circle cx="553.28" cy="222.99" r="1.5"/><circle cx="558.98" cy="220.15" r="1.5"/><circle cx="564.67" cy="221.23" r="1.5"/><circle cx="570.37" cy="222.2" r="1.5"/><circle cx="576.07" cy="222.51" r="1.5"/><circle cx="581.77" cy="222.14" r="1.5"/><circle cx="587.47" cy="223.9" r="1.5"/><circle cx="593.16" cy="223.64" r="1.5"/><circle cx="598.86" cy="223.93" r="1.5"/><circle cx="604.56" cy="224.64" r="1.5"/><circle cx="610.26" cy="224.63" r="1.5"/><circle cx="615.96" cy="225.49" r="1.5"/><circle cx="621.65" cy="225.64" r="1.5"/><circle cx="627.35" cy="225.57" r="1.5"/></g>
<path d="M348.15,222.84 L353.85,221.2 L359.54,222.24 L365.24,221.93 L370.94,221.42 L376.64,220.12 L382.34,219.67 L388.03,219.32 L393.73,217.27 L399.43,216.74 L405.13,217.36 L410.83,215.59 L416.52,215.98 L422.22,214.49 L427.92,213 L433.62,208.52 L439.32,206.58 L445.01,199.13 L450.71,194.2 L456.41,194.2 L462.11,184.66 L467.81,171.54 L473.5,159.31 L479.2,178.69 L484.9,180.19 L490.6,185.7 L496.3,190.03 L502,190.48 L507.69,192.86 L513.39,193.31 L519.09,203.15 L524.79,206.88 L530.49,211.06 L536.18,209.12 L541.88,214.93 L547.58,217.47 L553.28,219.71 L558.98,220.45 L564.67,220.19 L570.37,222.99 L576.07,221.27 L581.77,222.31 L587.47,223.71 L593.16,222.96 L598.86,224.75 L604.56,224.57 L610.26,224.33 L615.96,225.37 L621.65,225.08 L627.35,225.78" fill="none" stroke="#1a68d2" stroke-width="1.0" stroke-linejoin="round"/>
<path d="M445.01,197.75V200.5M450.71,192.73V195.68M456.41,192.73V195.68M462.11,182.99V186.33M467.81,169.64V173.43M473.5,157.22V161.39M479.2,176.92V180.47M484.9,178.44V181.93M490.6,184.06V187.35M496.3,188.46V191.59M502,188.92V192.03M507.69,191.36V194.37M513.39,191.81V194.81" stroke="#1a68d2" stroke-width="1.0" fill="none"/>
<g fill="#1a68d2"><circle cx="348.15" cy="222.84" r="1.5"/><circle cx="353.85" cy="221.2" r="1.5"/><circle cx="359.54" cy="222.24" r="1.5"/><circle cx="365.24" cy="221.93" r="1.5"/><circle cx="370.94" cy="221.42" r="1.5"/><circle cx="376.64" cy="220.12" r="1.5"/><circle cx="382.34" cy="219.67" r="1.5"/><circle cx="388.03" cy="219.32" r="1.5"/><circle cx="393.73" cy="217.27" r="1.5"/><circle cx="399.43" cy="216.74" r="1.5"/><circle cx="405.13" cy="217.36" r="1.5"/><circle cx="410.83" cy="215.59" r="1.5"/><circle cx="416.52" cy="215.98" r="1.5"/><circle cx="422.22" cy="214.49" r="1.5"/><circle cx="427.92" cy="213" r="1.5"/><circle cx="433.62" cy="208.52" r="1.5"/><circle cx="439.32" cy="206.58" r="1.5"/><circle cx="445.01" cy="199.13" r="1.5"/><circle cx="450.71" cy="194.2" r="1.5"/><circle cx="456.41" cy="194.2" r="1.5"/><circle cx="462.11" cy="184.66" r="1.5"/><circle cx="467.81" cy="171.54" r="1.5"/><circle cx="473.5" cy="159.31" r="1.5"/><circle cx="479.2" cy="178.69" r="1.5"/><circle cx="484.9" cy="180.19" r="1.5"/><circle cx="490.6" cy="185.7" r="1.5"/><circle cx="496.3" cy="190.03" r="1.5"/><circle cx="502" cy="190.48" r="1.5"/><circle cx="507.69" cy="192.86" r="1.5"/><circle cx="513.39" cy="193.31" r="1.5"/><circle cx="519.09" cy="203.15" r="1.5"/><circle cx="524.79" cy="206.88" r="1.5"/><circle cx="530.49" cy="211.06" r="1.5"/><circle cx="536.18" cy="209.12" r="1.5"/><circle cx="541.88" cy="214.93" r="1.5"/><circle cx="547.58" cy="217.47" r="1.5"/><circle cx="553.28" cy="219.71" r="1.5"/><circle cx="558.98" cy="220.45" r="1.5"/><circle cx="564.67" cy="220.19" r="1.5"/><circle cx="570.37" cy="222.99" r="1.5"/><circle cx="576.07" cy="221.27" r="1.5"/><circle cx="581.77" cy="222.31" r="1.5"/><circle cx="587.47" cy="223.71" r="1.5"/><circle cx="593.16" cy="222.96" r="1.5"/><circle cx="598.86" cy="224.75" r="1.5"/><circle cx="604.56" cy="224.57" r="1.5"/><circle cx="610.26" cy="224.33" r="1.5"/><circle cx="615.96" cy="225.37" r="1.5"/><circle cx="621.65" cy="225.08" r="1.5"/><circle cx="627.35" cy="225.78" r="1.5"/></g>
<path d="M348.15,223.81 L353.85,222.9 L359.54,222.42 L365.24,221.94 L370.94,220.3 L376.64,220.71 L382.34,219.1 L388.03,218.57 L393.73,217.85 L399.43,217.45 L405.13,215.53 L410.83,219.86 L416.52,214.49 L422.22,213 L427.92,211.5 L433.62,204.35 L439.32,202.56 L445.01,195.1 L450.71,192.27 L456.41,184.66 L462.11,172.28 L467.81,159.01 L473.5,142.01 L479.2,115.31 L484.9,155.28 L490.6,190.03 L496.3,157.97 L502,119.64 L507.69,144.1 L513.39,174.52 L519.09,192.12 L524.79,198.83 L530.49,206.88 L536.18,206.88 L541.88,213.74 L547.58,215.98 L553.28,215.93 L558.98,219.1 L564.67,220.15 L570.37,220.86 L576.07,223.05 L581.77,222.37 L587.47,223.05 L593.16,222.99 L598.86,223.37 L604.56,223.97 L610.26,225 L615.96,226.12 L621.65,226.12 L627.35,225.67" fill="none" stroke="#7040bf" stroke-width="1.0" stroke-linejoin="round"/>
<path d="M445.01,193.64V196.56M450.71,190.75V193.78M456.41,182.99V186.33M462.11,170.4V174.17M467.81,156.92V161.1M473.5,139.68V144.34M479.2,112.65V117.98M484.9,153.13V157.43M490.6,188.46V191.59M496.3,155.86V160.07M502,117.03V122.25M507.69,141.79V146.4M513.39,172.67V176.37M519.09,190.59V193.64M524.79,197.45V200.21" stroke="#7040bf" stroke-width="1.0" fill="none"/>
<g fill="#7040bf"><circle cx="348.15" cy="223.81" r="1.5"/><circle cx="353.85" cy="222.9" r="1.5"/><circle cx="359.54" cy="222.42" r="1.5"/><circle cx="365.24" cy="221.94" r="1.5"/><circle cx="370.94" cy="220.3" r="1.5"/><circle cx="376.64" cy="220.71" r="1.5"/><circle cx="382.34" cy="219.1" r="1.5"/><circle cx="388.03" cy="218.57" r="1.5"/><circle cx="393.73" cy="217.85" r="1.5"/><circle cx="399.43" cy="217.45" r="1.5"/><circle cx="405.13" cy="215.53" r="1.5"/><circle cx="410.83" cy="219.86" r="1.5"/><circle cx="416.52" cy="214.49" r="1.5"/><circle cx="422.22" cy="213" r="1.5"/><circle cx="427.92" cy="211.5" r="1.5"/><circle cx="433.62" cy="204.35" r="1.5"/><circle cx="439.32" cy="202.56" r="1.5"/><circle cx="445.01" cy="195.1" r="1.5"/><circle cx="450.71" cy="192.27" r="1.5"/><circle cx="456.41" cy="184.66" r="1.5"/><circle cx="462.11" cy="172.28" r="1.5"/><circle cx="467.81" cy="159.01" r="1.5"/><circle cx="473.5" cy="142.01" r="1.5"/><circle cx="479.2" cy="115.31" r="1.5"/><circle cx="484.9" cy="155.28" r="1.5"/><circle cx="490.6" cy="190.03" r="1.5"/><circle cx="496.3" cy="157.97" r="1.5"/><circle cx="502" cy="119.64" r="1.5"/><circle cx="507.69" cy="144.1" r="1.5"/><circle cx="513.39" cy="174.52" r="1.5"/><circle cx="519.09" cy="192.12" r="1.5"/><circle cx="524.79" cy="198.83" r="1.5"/><circle cx="530.49" cy="206.88" r="1.5"/><circle cx="536.18" cy="206.88" r="1.5"/><circle cx="541.88" cy="213.74" r="1.5"/><circle cx="547.58" cy="215.98" r="1.5"/><circle cx="553.28" cy="215.93" r="1.5"/><circle cx="558.98" cy="219.1" r="1.5"/><circle cx="564.67" cy="220.15" r="1.5"/><circle cx="570.37" cy="220.86" r="1.5"/><circle cx="576.07" cy="223.05" r="1.5"/><circle cx="581.77" cy="222.37" r="1.5"/><circle cx="587.47" cy="223.05" r="1.5"/><circle cx="593.16" cy="222.99" r="1.5"/><circle cx="598.86" cy="223.37" r="1.5"/><circle cx="604.56" cy="223.97" r="1.5"/><circle cx="610.26" cy="225" r="1.5"/><circle cx="615.96" cy="226.12" r="1.5"/><circle cx="621.65" cy="226.12" r="1.5"/><circle cx="627.35" cy="225.67" r="1.5"/></g>
<path d="M348.15,224.18 L353.85,223.04 L359.54,223.33 L365.24,221.86 L370.94,221.71 L376.64,221.14 L382.34,220.6 L388.03,218.13 L393.73,218.36 L399.43,218.07 L405.13,216.43 L410.83,215.23 L416.52,214.49 L422.22,210.01 L427.92,212.4 L433.62,207.03 L439.32,201.36 L445.01,197.04 L450.71,185.11 L456.41,174.67 L462.11,159.31 L467.81,122.92 L473.5,80.42 L479.2,115.01 L484.9,159.75 L490.6,170.19 L496.3,116.06 L502,116.06 L507.69,132.02 L513.39,167.81 L519.09,195.84 L524.79,202.56 L530.49,206.28 L536.18,213.89 L541.88,214.49 L547.58,215.23 L553.28,219.41 L558.98,218.81 L564.67,222.24 L570.37,220.15 L576.07,222.69 L581.77,221.65 L587.47,223.29 L593.16,225.08 L598.86,224.63 L604.56,225.52 L610.26,225.52" fill="none" stroke="#f07a1a" stroke-width="1.0" stroke-linejoin="round"/>
<path d="M445.01,195.62V198.46M450.71,183.45V186.77M456.41,172.82V176.51M462.11,157.22V161.39M467.81,120.35V125.49M473.5,77.37V83.46M479.2,112.35V117.68M484.9,157.67V161.84M490.6,168.28V172.11M496.3,113.4V118.71M502,113.4V118.71M507.69,129.56V134.48M513.39,165.85V169.76M519.09,194.4V197.29" stroke="#f07a1a" stroke-width="1.0" fill="none"/>
<g fill="#f07a1a"><circle cx="348.15" cy="224.18" r="1.5"/><circle cx="353.85" cy="223.04" r="1.5"/><circle cx="359.54" cy="223.33" r="1.5"/><circle cx="365.24" cy="221.86" r="1.5"/><circle cx="370.94" cy="221.71" r="1.5"/><circle cx="376.64" cy="221.14" r="1.5"/><circle cx="382.34" cy="220.6" r="1.5"/><circle cx="388.03" cy="218.13" r="1.5"/><circle cx="393.73" cy="218.36" r="1.5"/><circle cx="399.43" cy="218.07" r="1.5"/><circle cx="405.13" cy="216.43" r="1.5"/><circle cx="410.83" cy="215.23" r="1.5"/><circle cx="416.52" cy="214.49" r="1.5"/><circle cx="422.22" cy="210.01" r="1.5"/><circle cx="427.92" cy="212.4" r="1.5"/><circle cx="433.62" cy="207.03" r="1.5"/><circle cx="439.32" cy="201.36" r="1.5"/><circle cx="445.01" cy="197.04" r="1.5"/><circle cx="450.71" cy="185.11" r="1.5"/><circle cx="456.41" cy="174.67" r="1.5"/><circle cx="462.11" cy="159.31" r="1.5"/><circle cx="467.81" cy="122.92" r="1.5"/><circle cx="473.5" cy="80.42" r="1.5"/><circle cx="479.2" cy="115.01" r="1.5"/><circle cx="484.9" cy="159.75" r="1.5"/><circle cx="490.6" cy="170.19" r="1.5"/><circle cx="496.3" cy="116.06" r="1.5"/><circle cx="502" cy="116.06" r="1.5"/><circle cx="507.69" cy="132.02" r="1.5"/><circle cx="513.39" cy="167.81" r="1.5"/><circle cx="519.09" cy="195.84" r="1.5"/><circle cx="524.79" cy="202.56" r="1.5"/><circle cx="530.49" cy="206.28" r="1.5"/><circle cx="536.18" cy="213.89" r="1.5"/><circle cx="541.88" cy="214.49" r="1.5"/><circle cx="547.58" cy="215.23" r="1.5"/><circle cx="553.28" cy="219.41" r="1.5"/><circle cx="558.98" cy="218.81" r="1.5"/><circle cx="564.67" cy="222.24" r="1.5"/><circle cx="570.37" cy="220.15" r="1.5"/><circle cx="576.07" cy="222.69" r="1.5"/><circle cx="581.77" cy="221.65" r="1.5"/><circle cx="587.47" cy="223.29" r="1.5"/><circle cx="593.16" cy="225.08" r="1.5"/><circle cx="598.86" cy="224.63" r="1.5"/><circle cx="604.56" cy="225.52" r="1.5"/><circle cx="610.26" cy="225.52" r="1.5"/></g>
<path d="M348.15,224.63 L353.85,224.33 L359.54,222.24 L365.24,224.33 L370.94,222.24 L376.64,224.33 L382.34,221.05 L388.03,220.75 L393.73,219.86 L399.43,219.86 L405.13,216.57 L410.83,215.68 L416.52,213.74 L422.22,210.91 L427.92,208.07 L433.62,205.24 L439.32,204.35 L445.01,192.12 L450.71,187.64 L456.41,160.95 L462.11,136.64 L467.81,118.15 L473.5,97.72 L479.2,73.41 L484.9,108.9 L490.6,112.33 L496.3,101.59 L502,139.17 L507.69,161.84 L513.39,172.88 L519.09,193.61" fill="none" stroke="#e0301c" stroke-width="1.0" stroke-linejoin="round"/>
<path d="M445.01,190.59V193.64M450.71,186.03V189.25M456.41,158.89V163.01M462.11,134.24V139.04M467.81,115.52V120.78M473.5,94.85V100.58M479.2,70.29V76.52M484.9,106.16V111.64M490.6,109.63V115.03M496.3,98.77V104.41M502,136.81V141.54M507.69,159.79V163.89M513.39,171V174.75M519.09,192.12V195.1" stroke="#e0301c" stroke-width="1.0" fill="none"/>
<g fill="#e0301c"><circle cx="348.15" cy="224.63" r="1.5"/><circle cx="353.85" cy="224.33" r="1.5"/><circle cx="359.54" cy="222.24" r="1.5"/><circle cx="365.24" cy="224.33" r="1.5"/><circle cx="370.94" cy="222.24" r="1.5"/><circle cx="376.64" cy="224.33" r="1.5"/><circle cx="382.34" cy="221.05" r="1.5"/><circle cx="388.03" cy="220.75" r="1.5"/><circle cx="393.73" cy="219.86" r="1.5"/><circle cx="399.43" cy="219.86" r="1.5"/><circle cx="405.13" cy="216.57" r="1.5"/><circle cx="410.83" cy="215.68" r="1.5"/><circle cx="416.52" cy="213.74" r="1.5"/><circle cx="422.22" cy="210.91" r="1.5"/><circle cx="427.92" cy="208.07" r="1.5"/><circle cx="433.62" cy="205.24" r="1.5"/><circle cx="439.32" cy="204.35" r="1.5"/><circle cx="445.01" cy="192.12" r="1.5"/><circle cx="450.71" cy="187.64" r="1.5"/><circle cx="456.41" cy="160.95" r="1.5"/><circle cx="462.11" cy="136.64" r="1.5"/><circle cx="467.81" cy="118.15" r="1.5"/><circle cx="473.5" cy="97.72" r="1.5"/><circle cx="479.2" cy="73.41" r="1.5"/><circle cx="484.9" cy="108.9" r="1.5"/><circle cx="490.6" cy="112.33" r="1.5"/><circle cx="496.3" cy="101.59" r="1.5"/><circle cx="502" cy="139.17" r="1.5"/><circle cx="507.69" cy="161.84" r="1.5"/><circle cx="513.39" cy="172.88" r="1.5"/><circle cx="519.09" cy="193.61" r="1.5"/></g>
</g>
<path d="M54.5,229.4v-2.7M54.5,5.7v2.7M59.5,229.4v-2.7M59.5,5.7v2.7M65.5,229.4v-2.7M65.5,5.7v2.7M71.5,229.4v-2.7M71.5,5.7v2.7M76.5,229.4v-2.7M76.5,5.7v2.7M82.5,229.4v-5.0M82.5,5.7v5.0M88.5,229.4v-2.7M88.5,5.7v2.7M93.5,229.4v-2.7M93.5,5.7v2.7M99.5,229.4v-2.7M99.5,5.7v2.7M105.5,229.4v-2.7M105.5,5.7v2.7M110.5,229.4v-2.7M110.5,5.7v2.7M116.5,229.4v-2.7M116.5,5.7v2.7M122.5,229.4v-2.7M122.5,5.7v2.7M128.5,229.4v-2.7M128.5,5.7v2.7M133.5,229.4v-2.7M133.5,5.7v2.7M139.5,229.4v-5.0M139.5,5.7v5.0M145.5,229.4v-2.7M145.5,5.7v2.7M150.5,229.4v-2.7M150.5,5.7v2.7M156.5,229.4v-2.7M156.5,5.7v2.7M162.5,229.4v-2.7M162.5,5.7v2.7M167.5,229.4v-2.7M167.5,5.7v2.7M173.5,229.4v-2.7M173.5,5.7v2.7M179.5,229.4v-2.7M179.5,5.7v2.7M185.5,229.4v-2.7M185.5,5.7v2.7M190.5,229.4v-2.7M190.5,5.7v2.7M196.5,229.4v-5.0M196.5,5.7v5.0M202.5,229.4v-2.7M202.5,5.7v2.7M207.5,229.4v-2.7M207.5,5.7v2.7M213.5,229.4v-2.7M213.5,5.7v2.7M219.5,229.4v-2.7M219.5,5.7v2.7M224.5,229.4v-2.7M224.5,5.7v2.7M230.5,229.4v-2.7M230.5,5.7v2.7M236.5,229.4v-2.7M236.5,5.7v2.7M242.5,229.4v-2.7M242.5,5.7v2.7M247.5,229.4v-2.7M247.5,5.7v2.7M253.5,229.4v-5.0M253.5,5.7v5.0M259.5,229.4v-2.7M259.5,5.7v2.7M264.5,229.4v-2.7M264.5,5.7v2.7M270.5,229.4v-2.7M270.5,5.7v2.7M276.5,229.4v-2.7M276.5,5.7v2.7M281.5,229.4v-2.7M281.5,5.7v2.7M287.5,229.4v-2.7M287.5,5.7v2.7M293.5,229.4v-2.7M293.5,5.7v2.7M299.5,229.4v-2.7M299.5,5.7v2.7M304.5,229.4v-2.7M304.5,5.7v2.7M310.5,229.4v-5.0M310.5,5.7v5.0M316.5,229.4v-2.7M316.5,5.7v2.7M321.5,229.4v-2.7M321.5,5.7v2.7M327.5,229.4v-2.7M327.5,5.7v2.7M333.5,229.4v-2.7M333.5,5.7v2.7M338.5,229.4v-2.7M338.5,5.7v2.7M54,229.5h5.4M338.9,229.5h-5.4M54,221.5h2.7M338.9,221.5h-2.7M54,214.5h2.7M338.9,214.5h-2.7M54,207.5h2.7M338.9,207.5h-2.7M54,199.5h5.4M338.9,199.5h-5.4M54,192.5h2.7M338.9,192.5h-2.7M54,184.5h2.7M338.9,184.5h-2.7M54,177.5h2.7M338.9,177.5h-2.7M54,169.5h5.4M338.9,169.5h-5.4M54,162.5h2.7M338.9,162.5h-2.7M54,154.5h2.7M338.9,154.5h-2.7M54,147.5h2.7M338.9,147.5h-2.7M54,139.5h5.4M338.9,139.5h-5.4M54,132.5h2.7M338.9,132.5h-2.7M54,125.5h2.7M338.9,125.5h-2.7M54,117.5h2.7M338.9,117.5h-2.7M54,110.5h5.4M338.9,110.5h-5.4M54,102.5h2.7M338.9,102.5h-2.7M54,95.5h2.7M338.9,95.5h-2.7M54,87.5h2.7M338.9,87.5h-2.7M54,80.5h5.4M338.9,80.5h-5.4M54,72.5h2.7M338.9,72.5h-2.7M54,65.5h2.7M338.9,65.5h-2.7M54,57.5h2.7M338.9,57.5h-2.7M54,50.5h5.4M338.9,50.5h-5.4M54,42.5h2.7M338.9,42.5h-2.7M54,35.5h2.7M338.9,35.5h-2.7M54,28.5h2.7M338.9,28.5h-2.7M54,20.5h5.4M338.9,20.5h-5.4M54,13.5h2.7M338.9,13.5h-2.7M54,5.5h2.7M338.9,5.5h-2.7" stroke="#222" stroke-width="1" fill="none"/>
<rect x="54.0" y="5.7" width="284.9" height="223.7" fill="none" stroke="#111" stroke-width="1.3"/>
<path d="M345.5,229.4v-2.7M345.5,5.7v2.7M350.5,229.4v-2.7M350.5,5.7v2.7M356.5,229.4v-2.7M356.5,5.7v2.7M362.5,229.4v-2.7M362.5,5.7v2.7M368.5,229.4v-2.7M368.5,5.7v2.7M373.5,229.4v-5.0M373.5,5.7v5.0M379.5,229.4v-2.7M379.5,5.7v2.7M385.5,229.4v-2.7M385.5,5.7v2.7M390.5,229.4v-2.7M390.5,5.7v2.7M396.5,229.4v-2.7M396.5,5.7v2.7M402.5,229.4v-2.7M402.5,5.7v2.7M407.5,229.4v-2.7M407.5,5.7v2.7M413.5,229.4v-2.7M413.5,5.7v2.7M419.5,229.4v-2.7M419.5,5.7v2.7M425.5,229.4v-2.7M425.5,5.7v2.7M430.5,229.4v-5.0M430.5,5.7v5.0M436.5,229.4v-2.7M436.5,5.7v2.7M442.5,229.4v-2.7M442.5,5.7v2.7M447.5,229.4v-2.7M447.5,5.7v2.7M453.5,229.4v-2.7M453.5,5.7v2.7M459.5,229.4v-2.7M459.5,5.7v2.7M464.5,229.4v-2.7M464.5,5.7v2.7M470.5,229.4v-2.7M470.5,5.7v2.7M476.5,229.4v-2.7M476.5,5.7v2.7M482.5,229.4v-2.7M482.5,5.7v2.7M487.5,229.4v-5.0M487.5,5.7v5.0M493.5,229.4v-2.7M493.5,5.7v2.7M499.5,229.4v-2.7M499.5,5.7v2.7M504.5,229.4v-2.7M504.5,5.7v2.7M510.5,229.4v-2.7M510.5,5.7v2.7M516.5,229.4v-2.7M516.5,5.7v2.7M521.5,229.4v-2.7M521.5,5.7v2.7M527.5,229.4v-2.7M527.5,5.7v2.7M533.5,229.4v-2.7M533.5,5.7v2.7M539.5,229.4v-2.7M539.5,5.7v2.7M544.5,229.4v-5.0M544.5,5.7v5.0M550.5,229.4v-2.7M550.5,5.7v2.7M556.5,229.4v-2.7M556.5,5.7v2.7M561.5,229.4v-2.7M561.5,5.7v2.7M567.5,229.4v-2.7M567.5,5.7v2.7M573.5,229.4v-2.7M573.5,5.7v2.7M578.5,229.4v-2.7M578.5,5.7v2.7M584.5,229.4v-2.7M584.5,5.7v2.7M590.5,229.4v-2.7M590.5,5.7v2.7M596.5,229.4v-2.7M596.5,5.7v2.7M601.5,229.4v-5.0M601.5,5.7v5.0M607.5,229.4v-2.7M607.5,5.7v2.7M613.5,229.4v-2.7M613.5,5.7v2.7M618.5,229.4v-2.7M618.5,5.7v2.7M624.5,229.4v-2.7M624.5,5.7v2.7M630.5,229.4v-2.7M630.5,5.7v2.7M345.3,229.5h5.4M630.2,229.5h-5.4M345.3,221.5h2.7M630.2,221.5h-2.7M345.3,214.5h2.7M630.2,214.5h-2.7M345.3,207.5h2.7M630.2,207.5h-2.7M345.3,199.5h5.4M630.2,199.5h-5.4M345.3,192.5h2.7M630.2,192.5h-2.7M345.3,184.5h2.7M630.2,184.5h-2.7M345.3,177.5h2.7M630.2,177.5h-2.7M345.3,169.5h5.4M630.2,169.5h-5.4M345.3,162.5h2.7M630.2,162.5h-2.7M345.3,154.5h2.7M630.2,154.5h-2.7M345.3,147.5h2.7M630.2,147.5h-2.7M345.3,139.5h5.4M630.2,139.5h-5.4M345.3,132.5h2.7M630.2,132.5h-2.7M345.3,125.5h2.7M630.2,125.5h-2.7M345.3,117.5h2.7M630.2,117.5h-2.7M345.3,110.5h5.4M630.2,110.5h-5.4M345.3,102.5h2.7M630.2,102.5h-2.7M345.3,95.5h2.7M630.2,95.5h-2.7M345.3,87.5h2.7M630.2,87.5h-2.7M345.3,80.5h5.4M630.2,80.5h-5.4M345.3,72.5h2.7M630.2,72.5h-2.7M345.3,65.5h2.7M630.2,65.5h-2.7M345.3,57.5h2.7M630.2,57.5h-2.7M345.3,50.5h5.4M630.2,50.5h-5.4M345.3,42.5h2.7M630.2,42.5h-2.7M345.3,35.5h2.7M630.2,35.5h-2.7M345.3,28.5h2.7M630.2,28.5h-2.7M345.3,20.5h5.4M630.2,20.5h-5.4M345.3,13.5h2.7M630.2,13.5h-2.7M345.3,5.5h2.7M630.2,5.5h-2.7" stroke="#222" stroke-width="1" fill="none"/>
<rect x="345.3" y="5.7" width="284.9" height="223.7" fill="none" stroke="#111" stroke-width="1.3"/>
<g transform="translate(51.3,235.7) scale(0.22675,0.25) rotate(0.2)"><text x="0" y="0" transform="rotate(0.05 0 0)" font-size="63.2" text-anchor="end" fill="#000" stroke="#000" stroke-width="1.2" >0</text></g>
<g transform="translate(51.3,205.87) scale(0.22675,0.25) rotate(0.2)"><text x="0" y="0" transform="rotate(0.05 0 0)" font-size="63.2" text-anchor="end" fill="#000" stroke="#000" stroke-width="1.2" >20</text></g>
<g transform="translate(51.3,176.05) scale(0.22675,0.25) rotate(0.2)"><text x="0" y="0" transform="rotate(0.05 0 0)" font-size="63.2" text-anchor="end" fill="#000" stroke="#000" stroke-width="1.2" >40</text></g>
<g transform="translate(51.3,146.22) scale(0.22675,0.25) rotate(0.2)"><text x="0" y="0" transform="rotate(0.05 0 0)" font-size="63.2" text-anchor="end" fill="#000" stroke="#000" stroke-width="1.2" >60</text></g>
<g transform="translate(51.3,116.39) scale(0.22675,0.25) rotate(0.2)"><text x="0" y="0" transform="rotate(0.05 0 0)" font-size="63.2" text-anchor="end" fill="#000" stroke="#000" stroke-width="1.2" >80</text></g>
<g transform="translate(51.3,86.57) scale(0.22675,0.25) rotate(0.2)"><text x="0" y="0" transform="rotate(0.05 0 0)" font-size="63.2" text-anchor="end" fill="#000" stroke="#000" stroke-width="1.2" >100</text></g>
<g transform="translate(51.3,56.74) scale(0.22675,0.25) rotate(0.2)"><text x="0" y="0" transform="rotate(0.05 0 0)" font-size="63.2" text-anchor="end" fill="#000" stroke="#000" stroke-width="1.2" >120</text></g>
<g transform="translate(51.3,26.91) scale(0.22675,0.25) rotate(0.2)"><text x="0" y="0" transform="rotate(0.05 0 0)" font-size="63.2" text-anchor="end" fill="#000" stroke="#000" stroke-width="1.2" >140</text></g>
<g transform="translate(69.6,243.7) scale(0.22675,0.25) rotate(0.2)"><text x="0" y="0" transform="rotate(0.05 0 0)" font-size="63.2" text-anchor="start" fill="#000" stroke="#000" stroke-width="1.2" >-20</text></g>
<g transform="translate(127.3,243.7) scale(0.22675,0.25) rotate(0.2)"><text x="0" y="0" transform="rotate(0.05 0 0)" font-size="63.2" text-anchor="start" fill="#000" stroke="#000" stroke-width="1.2" >-10</text></g>
<g transform="translate(192.3,243.7) scale(0.22675,0.25) rotate(0.2)"><text x="0" y="0" transform="rotate(0.05 0 0)" font-size="63.2" text-anchor="start" fill="#000" stroke="#000" stroke-width="1.2" >0</text></g>
<g transform="translate(246.2,243.7) scale(0.22675,0.25) rotate(0.2)"><text x="0" y="0" transform="rotate(0.05 0 0)" font-size="63.2" text-anchor="start" fill="#000" stroke="#000" stroke-width="1.2" >10</text></g>
<g transform="translate(303.5,243.7) scale(0.22675,0.25) rotate(0.2)"><text x="0" y="0" transform="rotate(0.05 0 0)" font-size="63.2" text-anchor="start" fill="#000" stroke="#000" stroke-width="1.2" >20</text></g>
<text x="196.75" y="259.8" transform="rotate(0.05 196.75 259.8)" font-size="14.7" text-anchor="middle" fill="#000" stroke="#000" stroke-width="0.2" textLength="115" lengthAdjust="spacingAndGlyphs" >Days from perihelion</text>
<g transform="translate(360.9,243.7) scale(0.22675,0.25) rotate(0.2)"><text x="0" y="0" transform="rotate(0.05 0 0)" font-size="63.2" text-anchor="start" fill="#000" stroke="#000" stroke-width="1.2" >-20</text></g>
<g transform="translate(418.6,243.7) scale(0.22675,0.25) rotate(0.2)"><text x="0" y="0" transform="rotate(0.05 0 0)" font-size="63.2" text-anchor="start" fill="#000" stroke="#000" stroke-width="1.2" >-10</text></g>
<g transform="translate(483.6,243.7) scale(0.22675,0.25) rotate(0.2)"><text x="0" y="0" transform="rotate(0.05 0 0)" font-size="63.2" text-anchor="start" fill="#000" stroke="#000" stroke-width="1.2" >0</text></g>
<g transform="translate(537.5,243.7) scale(0.22675,0.25) rotate(0.2)"><text x="0" y="0" transform="rotate(0.05 0 0)" font-size="63.2" text-anchor="start" fill="#000" stroke="#000" stroke-width="1.2" >10</text></g>
<g transform="translate(594.8,243.7) scale(0.22675,0.25) rotate(0.2)"><text x="0" y="0" transform="rotate(0.05 0 0)" font-size="63.2" text-anchor="start" fill="#000" stroke="#000" stroke-width="1.2" >20</text></g>
<text x="488.05" y="259.8" transform="rotate(0.05 488.05 259.8)" font-size="14.7" text-anchor="middle" fill="#000" stroke="#000" stroke-width="0.2" textLength="115" lengthAdjust="spacingAndGlyphs" >Days from perihelion</text>
<g transform="translate(18.9,116.8) rotate(-90) scale(0.855,1)"><text x="0" y="0" transform="rotate(0.05 0 0)" font-size="14.8" text-anchor="middle" fill="#000" stroke="#000" stroke-width="0.2" >Impact Rate (hr<tspan font-size="9" dy="-5">−1</tspan><tspan dy="5">)</tspan></text></g>
<rect x="63.6" y="13.1" width="81.4" height="34.2" fill="#fff" stroke="#222" stroke-width="1.3"/>
<line x1="74.5" y1="19.3" x2="74.5" y2="39.4" stroke="#111" stroke-width="1.1"/><circle cx="74.5" cy="29.2" r="3.9" fill="#000"/>
<text x="87" y="34" transform="rotate(0.05 87 34)" font-size="12.7" text-anchor="start" fill="#000" stroke="#000" stroke-width="0.2" textLength="21.1" lengthAdjust="spacingAndGlyphs" >Data</text><text x="112.2" y="33.9" transform="rotate(0.05 112.2 33.9)" font-size="12.7" text-anchor="start" fill="#000" stroke="#000" stroke-width="0.2" textLength="6.6" lengthAdjust="spacingAndGlyphs" >±</text><path d="M122.9,32.3L124.1,31.5L125.9,35.6L129.3,24.1" fill="none" stroke="#000" stroke-width="1.15" stroke-linejoin="miter"/><text x="130.2" y="33.9" transform="rotate(0.05 130.2 33.9)" font-size="12.7" text-anchor="start" fill="#000" stroke="#000" stroke-width="0.2" textLength="5.9" lengthAdjust="spacingAndGlyphs" >N</text>
<rect x="355.3" y="13.4" width="81.1" height="34.3" fill="#fff" stroke="#222" stroke-width="1.3"/>
<line x1="366" y1="19" x2="366" y2="39.6" stroke="#777" stroke-width="1.1"/><circle cx="366" cy="29.3" r="3.9" fill="#000"/>
<text x="377.7" y="26" transform="rotate(0.05 377.7 26)" font-size="12.7" text-anchor="start" fill="#000" stroke="#000" stroke-width="0.2" textLength="21.1" lengthAdjust="spacingAndGlyphs" >Data</text><text x="402.9" y="25.9" transform="rotate(0.05 402.9 25.9)" font-size="12.7" text-anchor="start" fill="#000" stroke="#000" stroke-width="0.2" textLength="6.6" lengthAdjust="spacingAndGlyphs" >±</text><path d="M413.6,24.3L414.8,23.5L416.6,27.6L420,16.1" fill="none" stroke="#000" stroke-width="1.15" stroke-linejoin="miter"/><text x="420.9" y="25.9" transform="rotate(0.05 420.9 25.9)" font-size="12.7" text-anchor="start" fill="#000" stroke="#000" stroke-width="0.2" textLength="5.9" lengthAdjust="spacingAndGlyphs" >N</text>
<text x="377.9" y="41.2" transform="rotate(0.05 377.9 41.2)" font-size="12.9" text-anchor="start" fill="#000" stroke="#000" stroke-width="0.2" textLength="55" lengthAdjust="spacingAndGlyphs" >(1 day avg.)</text>
<rect x="63.5" y="56.9" width="39.8" height="94.1" fill="#fff" stroke="#222" stroke-width="1.3"/>
<text x="67.4" y="70.4" transform="rotate(0.05 67.4 70.4)" font-size="13.9" text-anchor="start" fill="#3a8a2a" stroke="#3a8a2a" stroke-width="0.2" textLength="31.4" lengthAdjust="spacingAndGlyphs" >Orbit 1</text>
<text x="67.4" y="86.02" transform="rotate(0.05 67.4 86.02)" font-size="13.9" text-anchor="start" fill="#000000" stroke="#000000" stroke-width="0.2" textLength="31.4" lengthAdjust="spacingAndGlyphs" >Orbit 2</text>
<text x="67.4" y="101.64" transform="rotate(0.05 67.4 101.64)" font-size="13.9" text-anchor="start" fill="#3055c0" stroke="#3055c0" stroke-width="0.2" textLength="31.4" lengthAdjust="spacingAndGlyphs" >Orbit 3</text>
<text x="67.4" y="117.26" transform="rotate(0.05 67.4 117.26)" font-size="13.9" text-anchor="start" fill="#5a2a98" stroke="#5a2a98" stroke-width="0.2" textLength="31.4" lengthAdjust="spacingAndGlyphs" >Orbit 4</text>
<text x="67.4" y="132.88" transform="rotate(0.05 67.4 132.88)" font-size="13.9" text-anchor="start" fill="#c86e2c" stroke="#c86e2c" stroke-width="0.2" textLength="31.4" lengthAdjust="spacingAndGlyphs" >Orbit 5</text>
<text x="67.4" y="148.5" transform="rotate(0.05 67.4 148.5)" font-size="13.9" text-anchor="start" fill="#a32a26" stroke="#a32a26" stroke-width="0.2" textLength="31.4" lengthAdjust="spacingAndGlyphs" >Orbit 6</text>
<rect x="355.2" y="56.9" width="39.8" height="94.1" fill="#fff" stroke="#222" stroke-width="1.3"/>
<text x="359.1" y="70.4" transform="rotate(0.05 359.1 70.4)" font-size="13.9" text-anchor="start" fill="#3a8a2a" stroke="#3a8a2a" stroke-width="0.2" textLength="31.4" lengthAdjust="spacingAndGlyphs" >Orbit 1</text>
<text x="359.1" y="86.02" transform="rotate(0.05 359.1 86.02)" font-size="13.9" text-anchor="start" fill="#000000" stroke="#000000" stroke-width="0.2" textLength="31.4" lengthAdjust="spacingAndGlyphs" >Orbit 2</text>
<text x="359.1" y="101.64" transform="rotate(0.05 359.1 101.64)" font-size="13.9" text-anchor="start" fill="#3055c0" stroke="#3055c0" stroke-width="0.2" textLength="31.4" lengthAdjust="spacingAndGlyphs" >Orbit 3</text>
<text x="359.1" y="117.26" transform="rotate(0.05 359.1 117.26)" font-size="13.9" text-anchor="start" fill="#5a2a98" stroke="#5a2a98" stroke-width="0.2" textLength="31.4" lengthAdjust="spacingAndGlyphs" >Orbit 4</text>
<text x="359.1" y="132.88" transform="rotate(0.05 359.1 132.88)" font-size="13.9" text-anchor="start" fill="#c86e2c" stroke="#c86e2c" stroke-width="0.2" textLength="31.4" lengthAdjust="spacingAndGlyphs" >Orbit 5</text>
<text x="359.1" y="148.5" transform="rotate(0.05 359.1 148.5)" font-size="13.9" text-anchor="start" fill="#a32a26" stroke="#a32a26" stroke-width="0.2" textLength="31.4" lengthAdjust="spacingAndGlyphs" >Orbit 6</text>
<text x="330.9" y="37.1" transform="rotate(0.05 330.9 37.1)" font-size="8" text-anchor="end" fill="#4a4a4a" textLength="60" lengthAdjust="spacingAndGlyphs" font-style="italic">Threshold = 50 mV</text>
<text x="620.9" y="37.1" transform="rotate(0.05 620.9 37.1)" font-size="8" text-anchor="end" fill="#4a4a4a" textLength="59.5" lengthAdjust="spacingAndGlyphs" font-style="italic">Threshold = 50 mV</text>
<circle cx="322.7" cy="18.7" r="8.95" fill="#000"/>
<g transform="translate(322.5,24.2) scale(0.86,1)"><text x="0" y="0" transform="rotate(0.05 0 0)" font-size="18" text-anchor="middle" fill="#fff" >a</text></g>
<circle cx="613.65" cy="18.9" r="8.75" fill="#000"/>
<g transform="translate(614.2,25.2) scale(0.86,1)"><text x="0" y="0" transform="rotate(0.05 0 0)" font-size="18" text-anchor="middle" fill="#fff" >b</text></g>
</svg></body></html>
